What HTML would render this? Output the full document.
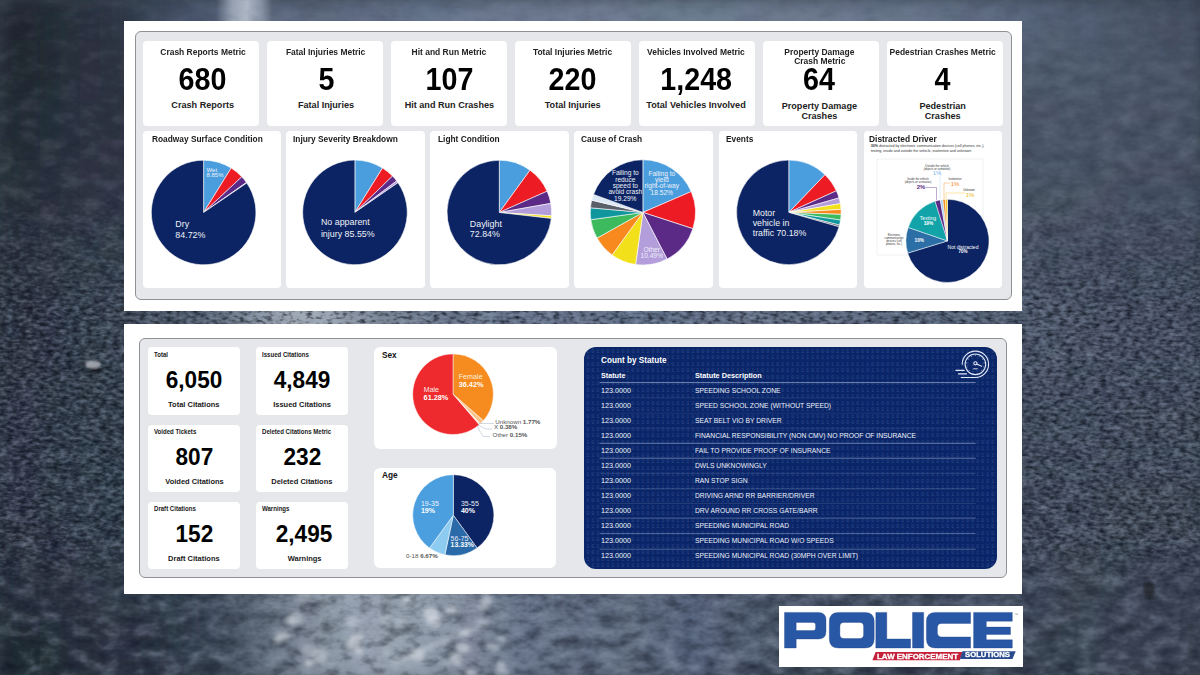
<!DOCTYPE html>
<html><head><meta charset="utf-8"><style>
*{margin:0;padding:0;box-sizing:border-box}
html,body{width:1200px;height:675px;overflow:hidden}
body{position:relative;font-family:"Liberation Sans", sans-serif;background:#3a4556}
.a{position:absolute}
.t{position:absolute;white-space:nowrap;line-height:1;color:#111}
.card{position:absolute;background:#fff;border-radius:4px}
svg{position:absolute;overflow:visible}
</style></head><body>
<svg class="a" style="left:0;top:0" width="1200" height="675" viewBox="0 0 1200 675"><defs><filter id="bl" x="-2%" y="-2%" width="104%" height="104%"><feGaussianBlur stdDeviation="9"/></filter><filter id="fw" x="0" y="0" width="100%" height="100%" color-interpolation-filters="sRGB"><feTurbulence type="fractalNoise" baseFrequency="0.15 0.3" numOctaves="2" seed="3"/><feColorMatrix type="matrix" values="0 0 0 0 0.659  0 0 0 0 0.722  0 0 0 0 0.816  2.2 0 0 0 -1.1"/></filter><filter id="fb" x="0" y="0" width="100%" height="100%" color-interpolation-filters="sRGB"><feTurbulence type="fractalNoise" baseFrequency="0.15 0.3" numOctaves="2" seed="3"/><feColorMatrix type="matrix" values="0 0 0 0 0.031  0 0 0 0 0.047  0 0 0 0 0.086  -2.6 0 0 0 1.3"/></filter><filter id="cw" x="0" y="0" width="100%" height="100%" color-interpolation-filters="sRGB"><feTurbulence type="fractalNoise" baseFrequency="0.05 0.08" numOctaves="3" seed="11"/><feColorMatrix type="matrix" values="0 0 0 0 0.706  0 0 0 0 0.761  0 0 0 0 0.839  1.3 0 0 0 -0.65"/></filter><filter id="cb" x="0" y="0" width="100%" height="100%" color-interpolation-filters="sRGB"><feTurbulence type="fractalNoise" baseFrequency="0.05 0.08" numOctaves="3" seed="11"/><feColorMatrix type="matrix" values="0 0 0 0 0.047  0 0 0 0 0.071  0 0 0 0 0.125  -1.6 0 0 0 0.8"/></filter><linearGradient id="gf" x1="0" y1="0" x2="0" y2="1"><stop offset="0" stop-color="#fff" stop-opacity="0"/><stop offset="0.28" stop-color="#fff" stop-opacity="0.06"/><stop offset="0.46" stop-color="#fff" stop-opacity="0.8"/><stop offset="0.8" stop-color="#fff" stop-opacity="0.75"/><stop offset="0.87" stop-color="#fff" stop-opacity="0.2"/><stop offset="1" stop-color="#fff" stop-opacity="0"/></linearGradient><linearGradient id="gc" x1="0" y1="0" x2="0" y2="1"><stop offset="0" stop-color="#fff" stop-opacity="0.2"/><stop offset="0.3" stop-color="#fff" stop-opacity="0.45"/><stop offset="0.6" stop-color="#fff" stop-opacity="0.35"/><stop offset="1" stop-color="#fff" stop-opacity="1"/></linearGradient><mask id="mf" maskUnits="userSpaceOnUse" x="0" y="0" width="1200" height="675"><rect width="1200" height="675" fill="url(#gf)"/></mask><mask id="mc" maskUnits="userSpaceOnUse" x="0" y="0" width="1200" height="675"><rect width="1200" height="675" fill="url(#gc)"/></mask></defs><g filter="url(#bl)"><rect x="-20" y="-20" width="1240" height="715" fill="#363f4c"/><rect x="0" y="0" width="20" height="20" fill="#212730"/><rect x="20" y="0" width="20" height="20" fill="#212733"/><rect x="40" y="0" width="20" height="20" fill="#242a36"/><rect x="60" y="0" width="20" height="20" fill="#272d39"/><rect x="80" y="0" width="20" height="20" fill="#2a333f"/><rect x="100" y="0" width="20" height="20" fill="#2d3645"/><rect x="120" y="0" width="20" height="20" fill="#333c4b"/><rect x="140" y="0" width="20" height="20" fill="#394557"/><rect x="160" y="0" width="20" height="20" fill="#3f4b60"/><rect x="180" y="0" width="20" height="20" fill="#48546c"/><rect x="200" y="0" width="20" height="20" fill="#515d75"/><rect x="220" y="0" width="20" height="20" fill="#57637b"/><rect x="240" y="0" width="20" height="20" fill="#5a667e"/><rect x="260" y="0" width="20" height="20" fill="#5d697e"/><rect x="280" y="0" width="20" height="20" fill="#5d6981"/><rect x="300" y="0" width="40" height="20" fill="#5d697e"/><rect x="340" y="0" width="20" height="20" fill="#5d6981"/><rect x="360" y="0" width="20" height="20" fill="#606c84"/><rect x="380" y="0" width="20" height="20" fill="#636f87"/><rect x="400" y="0" width="40" height="20" fill="#63728a"/><rect x="440" y="0" width="20" height="20" fill="#66758d"/><rect x="460" y="0" width="100" height="20" fill="#6c7890"/><rect x="560" y="0" width="80" height="20" fill="#6f7b93"/><rect x="640" y="0" width="100" height="20" fill="#6c7b90"/><rect x="740" y="0" width="20" height="20" fill="#6c7890"/><rect x="760" y="0" width="80" height="20" fill="#6c788d"/><rect x="840" y="0" width="20" height="20" fill="#69758d"/><rect x="860" y="0" width="60" height="20" fill="#66758a"/><rect x="920" y="0" width="20" height="20" fill="#66728a"/><rect x="940" y="0" width="20" height="20" fill="#606f84"/><rect x="960" y="0" width="20" height="20" fill="#606c84"/><rect x="980" y="0" width="20" height="20" fill="#5d6c81"/><rect x="1000" y="0" width="20" height="20" fill="#5a667e"/><rect x="1020" y="0" width="20" height="20" fill="#57637b"/><rect x="1040" y="0" width="20" height="20" fill="#546078"/><rect x="1060" y="0" width="20" height="20" fill="#515d72"/><rect x="1080" y="0" width="20" height="20" fill="#4e5a6f"/><rect x="1100" y="0" width="20" height="20" fill="#4e5a6c"/><rect x="1120" y="0" width="20" height="20" fill="#4b5769"/><rect x="1140" y="0" width="20" height="20" fill="#485466"/><rect x="1160" y="0" width="20" height="20" fill="#455163"/><rect x="1180" y="0" width="20" height="20" fill="#424e60"/><rect x="0" y="20" width="20" height="20" fill="#212730"/><rect x="20" y="20" width="20" height="20" fill="#212733"/><rect x="40" y="20" width="20" height="20" fill="#242d36"/><rect x="60" y="20" width="20" height="20" fill="#2a303c"/><rect x="80" y="20" width="20" height="20" fill="#2a333f"/><rect x="100" y="20" width="20" height="20" fill="#2d3642"/><rect x="120" y="20" width="20" height="20" fill="#333c4b"/><rect x="140" y="20" width="20" height="20" fill="#394254"/><rect x="160" y="20" width="20" height="20" fill="#3f4b60"/><rect x="180" y="20" width="20" height="20" fill="#48546c"/><rect x="200" y="20" width="20" height="20" fill="#515d75"/><rect x="220" y="20" width="20" height="20" fill="#57637b"/><rect x="240" y="20" width="20" height="20" fill="#5a667e"/><rect x="260" y="20" width="20" height="20" fill="#5d697e"/><rect x="280" y="20" width="20" height="20" fill="#5d6981"/><rect x="300" y="20" width="40" height="20" fill="#5d697e"/><rect x="340" y="20" width="20" height="20" fill="#5d6981"/><rect x="360" y="20" width="20" height="20" fill="#606c84"/><rect x="380" y="20" width="20" height="20" fill="#636f87"/><rect x="400" y="20" width="40" height="20" fill="#63728a"/><rect x="440" y="20" width="20" height="20" fill="#66758d"/><rect x="460" y="20" width="100" height="20" fill="#6c7890"/><rect x="560" y="20" width="80" height="20" fill="#6f7b93"/><rect x="640" y="20" width="100" height="20" fill="#6c7b90"/><rect x="740" y="20" width="20" height="20" fill="#6c7890"/><rect x="760" y="20" width="80" height="20" fill="#6c788d"/><rect x="840" y="20" width="20" height="20" fill="#69758d"/><rect x="860" y="20" width="60" height="20" fill="#66758a"/><rect x="920" y="20" width="20" height="20" fill="#66728a"/><rect x="940" y="20" width="20" height="20" fill="#606f84"/><rect x="960" y="20" width="20" height="20" fill="#606c84"/><rect x="980" y="20" width="20" height="20" fill="#5d6981"/><rect x="1000" y="20" width="20" height="20" fill="#5a667e"/><rect x="1020" y="20" width="20" height="20" fill="#546378"/><rect x="1040" y="20" width="20" height="20" fill="#546075"/><rect x="1060" y="20" width="20" height="20" fill="#515d72"/><rect x="1080" y="20" width="20" height="20" fill="#4e5a6f"/><rect x="1100" y="20" width="20" height="20" fill="#4e5a6c"/><rect x="1120" y="20" width="20" height="20" fill="#4b5769"/><rect x="1140" y="20" width="20" height="20" fill="#485466"/><rect x="1160" y="20" width="20" height="20" fill="#485163"/><rect x="1180" y="20" width="20" height="20" fill="#424e60"/><rect x="0" y="40" width="20" height="20" fill="#212730"/><rect x="20" y="40" width="20" height="20" fill="#242a33"/><rect x="40" y="40" width="20" height="20" fill="#272d39"/><rect x="60" y="40" width="20" height="20" fill="#2a303c"/><rect x="80" y="40" width="20" height="20" fill="#2d333f"/><rect x="100" y="40" width="20" height="20" fill="#2d3642"/><rect x="120" y="40" width="20" height="20" fill="#303945"/><rect x="140" y="40" width="20" height="20" fill="#363f4e"/><rect x="160" y="40" width="20" height="20" fill="#3f4b5d"/><rect x="180" y="40" width="20" height="20" fill="#48546c"/><rect x="200" y="40" width="20" height="20" fill="#515d75"/><rect x="220" y="40" width="20" height="20" fill="#57637b"/><rect x="240" y="40" width="20" height="20" fill="#5a667e"/><rect x="260" y="40" width="20" height="20" fill="#5d697e"/><rect x="280" y="40" width="20" height="20" fill="#5d6981"/><rect x="300" y="40" width="40" height="20" fill="#5d697e"/><rect x="340" y="40" width="20" height="20" fill="#5d6981"/><rect x="360" y="40" width="20" height="20" fill="#606c84"/><rect x="380" y="40" width="20" height="20" fill="#636f87"/><rect x="400" y="40" width="40" height="20" fill="#63728a"/><rect x="440" y="40" width="20" height="20" fill="#66758d"/><rect x="460" y="40" width="100" height="20" fill="#6c7890"/><rect x="560" y="40" width="80" height="20" fill="#6f7b93"/><rect x="640" y="40" width="100" height="20" fill="#6c7b90"/><rect x="740" y="40" width="20" height="20" fill="#6c7890"/><rect x="760" y="40" width="80" height="20" fill="#6c788d"/><rect x="840" y="40" width="20" height="20" fill="#69758d"/><rect x="860" y="40" width="60" height="20" fill="#66758a"/><rect x="920" y="40" width="20" height="20" fill="#66728a"/><rect x="940" y="40" width="20" height="20" fill="#606f84"/><rect x="960" y="40" width="20" height="20" fill="#606c84"/><rect x="980" y="40" width="20" height="20" fill="#5d6981"/><rect x="1000" y="40" width="20" height="20" fill="#576378"/><rect x="1020" y="40" width="20" height="20" fill="#515d72"/><rect x="1040" y="40" width="40" height="20" fill="#515d6f"/><rect x="1080" y="40" width="20" height="20" fill="#4e5a6f"/><rect x="1100" y="40" width="20" height="20" fill="#4e5a6c"/><rect x="1120" y="40" width="40" height="20" fill="#4b5769"/><rect x="1160" y="40" width="20" height="20" fill="#485466"/><rect x="1180" y="40" width="20" height="20" fill="#455163"/><rect x="0" y="60" width="20" height="20" fill="#212730"/><rect x="20" y="60" width="20" height="20" fill="#242a33"/><rect x="40" y="60" width="20" height="20" fill="#272d39"/><rect x="60" y="60" width="20" height="20" fill="#2a303c"/><rect x="80" y="60" width="20" height="20" fill="#2d333f"/><rect x="100" y="60" width="20" height="20" fill="#2d3642"/><rect x="120" y="60" width="20" height="20" fill="#303642"/><rect x="140" y="60" width="20" height="20" fill="#303948"/><rect x="160" y="60" width="20" height="20" fill="#394554"/><rect x="180" y="60" width="20" height="20" fill="#485469"/><rect x="200" y="60" width="20" height="20" fill="#515d75"/><rect x="220" y="60" width="20" height="20" fill="#57637b"/><rect x="240" y="60" width="20" height="20" fill="#5a667e"/><rect x="260" y="60" width="20" height="20" fill="#5d697e"/><rect x="280" y="60" width="20" height="20" fill="#5d6981"/><rect x="300" y="60" width="40" height="20" fill="#5d697e"/><rect x="340" y="60" width="20" height="20" fill="#5d6981"/><rect x="360" y="60" width="20" height="20" fill="#606c84"/><rect x="380" y="60" width="20" height="20" fill="#636f87"/><rect x="400" y="60" width="40" height="20" fill="#63728a"/><rect x="440" y="60" width="20" height="20" fill="#66758d"/><rect x="460" y="60" width="100" height="20" fill="#6c7890"/><rect x="560" y="60" width="80" height="20" fill="#6f7b93"/><rect x="640" y="60" width="100" height="20" fill="#6c7b90"/><rect x="740" y="60" width="20" height="20" fill="#6c7890"/><rect x="760" y="60" width="80" height="20" fill="#6c788d"/><rect x="840" y="60" width="20" height="20" fill="#69758d"/><rect x="860" y="60" width="60" height="20" fill="#66758a"/><rect x="920" y="60" width="20" height="20" fill="#66728a"/><rect x="940" y="60" width="20" height="20" fill="#606f84"/><rect x="960" y="60" width="20" height="20" fill="#5d6c81"/><rect x="980" y="60" width="20" height="20" fill="#5a667b"/><rect x="1000" y="60" width="20" height="20" fill="#515d72"/><rect x="1020" y="60" width="20" height="20" fill="#515d6f"/><rect x="1040" y="60" width="80" height="20" fill="#4e5a6c"/><rect x="1120" y="60" width="60" height="20" fill="#4b5769"/><rect x="1180" y="60" width="20" height="20" fill="#4b5466"/><rect x="0" y="80" width="20" height="20" fill="#242a33"/><rect x="20" y="80" width="20" height="20" fill="#242a36"/><rect x="40" y="80" width="20" height="20" fill="#273039"/><rect x="60" y="80" width="20" height="20" fill="#2a333f"/><rect x="80" y="80" width="20" height="20" fill="#2d3342"/><rect x="100" y="80" width="40" height="20" fill="#2d3642"/><rect x="140" y="80" width="20" height="20" fill="#303645"/><rect x="160" y="80" width="20" height="20" fill="#333948"/><rect x="180" y="80" width="20" height="20" fill="#424e60"/><rect x="200" y="80" width="20" height="20" fill="#515d75"/><rect x="220" y="80" width="20" height="20" fill="#57637b"/><rect x="240" y="80" width="20" height="20" fill="#5a667e"/><rect x="260" y="80" width="20" height="20" fill="#5d697e"/><rect x="280" y="80" width="20" height="20" fill="#5d6981"/><rect x="300" y="80" width="40" height="20" fill="#5d697e"/><rect x="340" y="80" width="20" height="20" fill="#5d6981"/><rect x="360" y="80" width="20" height="20" fill="#606c84"/><rect x="380" y="80" width="20" height="20" fill="#636f87"/><rect x="400" y="80" width="40" height="20" fill="#63728a"/><rect x="440" y="80" width="20" height="20" fill="#66758d"/><rect x="460" y="80" width="100" height="20" fill="#6c7890"/><rect x="560" y="80" width="80" height="20" fill="#6f7b93"/><rect x="640" y="80" width="100" height="20" fill="#6c7b90"/><rect x="740" y="80" width="20" height="20" fill="#6c7890"/><rect x="760" y="80" width="80" height="20" fill="#6c788d"/><rect x="840" y="80" width="20" height="20" fill="#69758d"/><rect x="860" y="80" width="60" height="20" fill="#66758a"/><rect x="920" y="80" width="20" height="20" fill="#66728a"/><rect x="940" y="80" width="20" height="20" fill="#606c84"/><rect x="960" y="80" width="20" height="20" fill="#5a697e"/><rect x="980" y="80" width="20" height="20" fill="#515d72"/><rect x="1000" y="80" width="100" height="20" fill="#4e5a6c"/><rect x="1100" y="80" width="100" height="20" fill="#4b5769"/><rect x="0" y="100" width="20" height="20" fill="#242a36"/><rect x="20" y="100" width="20" height="20" fill="#272d39"/><rect x="40" y="100" width="20" height="20" fill="#27303c"/><rect x="60" y="100" width="20" height="20" fill="#2a333f"/><rect x="80" y="100" width="40" height="20" fill="#2d3642"/><rect x="120" y="100" width="20" height="20" fill="#303642"/><rect x="140" y="100" width="40" height="20" fill="#303645"/><rect x="180" y="100" width="20" height="20" fill="#333c4b"/><rect x="200" y="100" width="20" height="20" fill="#4b576c"/><rect x="220" y="100" width="20" height="20" fill="#57637b"/><rect x="240" y="100" width="20" height="20" fill="#5a667e"/><rect x="260" y="100" width="20" height="20" fill="#5d697e"/><rect x="280" y="100" width="20" height="20" fill="#5d6981"/><rect x="300" y="100" width="40" height="20" fill="#5d697e"/><rect x="340" y="100" width="20" height="20" fill="#5d6981"/><rect x="360" y="100" width="20" height="20" fill="#606c84"/><rect x="380" y="100" width="20" height="20" fill="#636f87"/><rect x="400" y="100" width="40" height="20" fill="#63728a"/><rect x="440" y="100" width="20" height="20" fill="#66758d"/><rect x="460" y="100" width="100" height="20" fill="#6c7890"/><rect x="560" y="100" width="80" height="20" fill="#6f7b93"/><rect x="640" y="100" width="100" height="20" fill="#6c7b90"/><rect x="740" y="100" width="20" height="20" fill="#6c7890"/><rect x="760" y="100" width="80" height="20" fill="#6c788d"/><rect x="840" y="100" width="20" height="20" fill="#69758d"/><rect x="860" y="100" width="60" height="20" fill="#66758a"/><rect x="920" y="100" width="20" height="20" fill="#66728a"/><rect x="940" y="100" width="20" height="20" fill="#5a697e"/><rect x="960" y="100" width="20" height="20" fill="#515a6f"/><rect x="980" y="100" width="80" height="20" fill="#4e5769"/><rect x="1060" y="100" width="60" height="20" fill="#4b5769"/><rect x="1120" y="100" width="60" height="20" fill="#4b5466"/><rect x="1180" y="100" width="20" height="20" fill="#485466"/><rect x="0" y="120" width="20" height="20" fill="#242a36"/><rect x="20" y="120" width="20" height="20" fill="#272d39"/><rect x="40" y="120" width="20" height="20" fill="#27303c"/><rect x="60" y="120" width="20" height="20" fill="#2a333f"/><rect x="80" y="120" width="40" height="20" fill="#2d3642"/><rect x="120" y="120" width="80" height="20" fill="#303645"/><rect x="200" y="120" width="20" height="20" fill="#333c4b"/><rect x="220" y="120" width="20" height="20" fill="#515d72"/><rect x="240" y="120" width="20" height="20" fill="#5a667e"/><rect x="260" y="120" width="20" height="20" fill="#5d697e"/><rect x="280" y="120" width="20" height="20" fill="#5d6981"/><rect x="300" y="120" width="40" height="20" fill="#5d697e"/><rect x="340" y="120" width="20" height="20" fill="#5d6981"/><rect x="360" y="120" width="20" height="20" fill="#606c84"/><rect x="380" y="120" width="20" height="20" fill="#636f87"/><rect x="400" y="120" width="40" height="20" fill="#63728a"/><rect x="440" y="120" width="20" height="20" fill="#66758d"/><rect x="460" y="120" width="20" height="20" fill="#69788d"/><rect x="480" y="120" width="80" height="20" fill="#6c7890"/><rect x="560" y="120" width="20" height="20" fill="#6c7b90"/><rect x="580" y="120" width="40" height="20" fill="#6f7b93"/><rect x="620" y="120" width="20" height="20" fill="#6f7b90"/><rect x="640" y="120" width="80" height="20" fill="#6c7b90"/><rect x="720" y="120" width="20" height="20" fill="#6c7890"/><rect x="740" y="120" width="80" height="20" fill="#6c788d"/><rect x="820" y="120" width="20" height="20" fill="#69788d"/><rect x="840" y="120" width="20" height="20" fill="#69758d"/><rect x="860" y="120" width="40" height="20" fill="#66758a"/><rect x="900" y="120" width="20" height="20" fill="#66728a"/><rect x="920" y="120" width="20" height="20" fill="#5d6c81"/><rect x="940" y="120" width="20" height="20" fill="#4e5a6c"/><rect x="960" y="120" width="140" height="20" fill="#4b5769"/><rect x="1100" y="120" width="20" height="20" fill="#4b5466"/><rect x="1120" y="120" width="80" height="20" fill="#485466"/><rect x="0" y="140" width="20" height="20" fill="#272d36"/><rect x="20" y="140" width="20" height="20" fill="#272d39"/><rect x="40" y="140" width="20" height="20" fill="#2a303c"/><rect x="60" y="140" width="20" height="20" fill="#2a333f"/><rect x="80" y="140" width="20" height="20" fill="#2d3642"/><rect x="100" y="140" width="60" height="20" fill="#303645"/><rect x="160" y="140" width="60" height="20" fill="#303945"/><rect x="220" y="140" width="20" height="20" fill="#333c4b"/><rect x="240" y="140" width="20" height="20" fill="#546075"/><rect x="260" y="140" width="20" height="20" fill="#5a667e"/><rect x="280" y="140" width="40" height="20" fill="#5a667b"/><rect x="320" y="140" width="20" height="20" fill="#57667b"/><rect x="340" y="140" width="20" height="20" fill="#5a667b"/><rect x="360" y="140" width="20" height="20" fill="#5a667e"/><rect x="380" y="140" width="40" height="20" fill="#5d6981"/><rect x="420" y="140" width="20" height="20" fill="#5a667e"/><rect x="440" y="140" width="20" height="20" fill="#5a6678"/><rect x="460" y="140" width="20" height="20" fill="#606c81"/><rect x="480" y="140" width="40" height="20" fill="#636f84"/><rect x="520" y="140" width="20" height="20" fill="#606c81"/><rect x="540" y="140" width="20" height="20" fill="#5d667b"/><rect x="560" y="140" width="20" height="20" fill="#606c81"/><rect x="580" y="140" width="40" height="20" fill="#667287"/><rect x="620" y="140" width="20" height="20" fill="#606c81"/><rect x="640" y="140" width="20" height="20" fill="#5d697b"/><rect x="660" y="140" width="20" height="20" fill="#606c81"/><rect x="680" y="140" width="40" height="20" fill="#637287"/><rect x="720" y="140" width="20" height="20" fill="#606c81"/><rect x="740" y="140" width="20" height="20" fill="#5a667b"/><rect x="760" y="140" width="20" height="20" fill="#606c7e"/><rect x="780" y="140" width="40" height="20" fill="#636f84"/><rect x="820" y="140" width="20" height="20" fill="#606c7e"/><rect x="840" y="140" width="20" height="20" fill="#5a6678"/><rect x="860" y="140" width="20" height="20" fill="#5d697e"/><rect x="880" y="140" width="20" height="20" fill="#606c81"/><rect x="900" y="140" width="20" height="20" fill="#5d697e"/><rect x="920" y="140" width="20" height="20" fill="#4e5769"/><rect x="940" y="140" width="160" height="20" fill="#4b5769"/><rect x="1100" y="140" width="100" height="20" fill="#485466"/><rect x="0" y="160" width="20" height="20" fill="#273039"/><rect x="20" y="160" width="20" height="20" fill="#2a303c"/><rect x="40" y="160" width="20" height="20" fill="#2a333f"/><rect x="60" y="160" width="20" height="20" fill="#2d3642"/><rect x="80" y="160" width="20" height="20" fill="#303645"/><rect x="100" y="160" width="80" height="20" fill="#303945"/><rect x="180" y="160" width="40" height="20" fill="#303948"/><rect x="220" y="160" width="20" height="20" fill="#333948"/><rect x="240" y="160" width="20" height="20" fill="#545d6c"/><rect x="260" y="160" width="20" height="20" fill="#757e8d"/><rect x="280" y="160" width="20" height="20" fill="#7e8a96"/><rect x="300" y="160" width="20" height="20" fill="#818a99"/><rect x="320" y="160" width="20" height="20" fill="#7b8793"/><rect x="340" y="160" width="20" height="20" fill="#727e8d"/><rect x="360" y="160" width="20" height="20" fill="#697284"/><rect x="380" y="160" width="20" height="20" fill="#606c7b"/><rect x="400" y="160" width="20" height="20" fill="#5a6375"/><rect x="420" y="160" width="20" height="20" fill="#5a6378"/><rect x="440" y="160" width="20" height="20" fill="#5a6678"/><rect x="460" y="160" width="20" height="20" fill="#576375"/><rect x="480" y="160" width="40" height="20" fill="#545d72"/><rect x="520" y="160" width="20" height="20" fill="#576375"/><rect x="540" y="160" width="20" height="20" fill="#576378"/><rect x="560" y="160" width="20" height="20" fill="#576375"/><rect x="580" y="160" width="20" height="20" fill="#545d72"/><rect x="600" y="160" width="20" height="20" fill="#515d72"/><rect x="620" y="160" width="20" height="20" fill="#576375"/><rect x="640" y="160" width="20" height="20" fill="#576378"/><rect x="660" y="160" width="20" height="20" fill="#576375"/><rect x="680" y="160" width="40" height="20" fill="#515d6f"/><rect x="720" y="160" width="20" height="20" fill="#545d72"/><rect x="740" y="160" width="20" height="20" fill="#546072"/><rect x="760" y="160" width="20" height="20" fill="#545d72"/><rect x="780" y="160" width="20" height="20" fill="#515a6c"/><rect x="800" y="160" width="20" height="20" fill="#4e5a6c"/><rect x="820" y="160" width="20" height="20" fill="#515d6f"/><rect x="840" y="160" width="20" height="20" fill="#545d72"/><rect x="860" y="160" width="20" height="20" fill="#515d6f"/><rect x="880" y="160" width="20" height="20" fill="#4e5a6c"/><rect x="900" y="160" width="20" height="20" fill="#4e5769"/><rect x="920" y="160" width="40" height="20" fill="#4b5466"/><rect x="960" y="160" width="140" height="20" fill="#485466"/><rect x="1100" y="160" width="20" height="20" fill="#485463"/><rect x="1120" y="160" width="80" height="20" fill="#485163"/><rect x="0" y="180" width="20" height="20" fill="#2a3039"/><rect x="20" y="180" width="20" height="20" fill="#2a333c"/><rect x="40" y="180" width="20" height="20" fill="#2a333f"/><rect x="60" y="180" width="20" height="20" fill="#2d3642"/><rect x="80" y="180" width="20" height="20" fill="#303945"/><rect x="100" y="180" width="20" height="20" fill="#303948"/><rect x="120" y="180" width="80" height="20" fill="#333948"/><rect x="200" y="180" width="20" height="20" fill="#333c48"/><rect x="220" y="180" width="20" height="20" fill="#4b5463"/><rect x="240" y="180" width="20" height="20" fill="#788190"/><rect x="260" y="180" width="20" height="20" fill="#8d96a5"/><rect x="280" y="180" width="20" height="20" fill="#9ca5b1"/><rect x="300" y="180" width="20" height="20" fill="#9fa8b4"/><rect x="320" y="180" width="20" height="20" fill="#969fae"/><rect x="340" y="180" width="20" height="20" fill="#8793a2"/><rect x="360" y="180" width="20" height="20" fill="#7b8796"/><rect x="380" y="180" width="20" height="20" fill="#758190"/><rect x="400" y="180" width="20" height="20" fill="#6c788d"/><rect x="420" y="180" width="40" height="20" fill="#69758a"/><rect x="460" y="180" width="40" height="20" fill="#66728a"/><rect x="500" y="180" width="40" height="20" fill="#63728a"/><rect x="540" y="180" width="20" height="20" fill="#66728a"/><rect x="560" y="180" width="40" height="20" fill="#63728a"/><rect x="600" y="180" width="40" height="20" fill="#636f8a"/><rect x="640" y="180" width="20" height="20" fill="#63728a"/><rect x="660" y="180" width="20" height="20" fill="#636f8a"/><rect x="680" y="180" width="20" height="20" fill="#636f87"/><rect x="700" y="180" width="100" height="20" fill="#5d697e"/><rect x="800" y="180" width="100" height="20" fill="#5a667b"/><rect x="900" y="180" width="20" height="20" fill="#576378"/><rect x="920" y="180" width="20" height="20" fill="#515d6f"/><rect x="940" y="180" width="20" height="20" fill="#485466"/><rect x="960" y="180" width="140" height="20" fill="#485463"/><rect x="1100" y="180" width="20" height="20" fill="#485163"/><rect x="1120" y="180" width="80" height="20" fill="#455163"/><rect x="0" y="200" width="20" height="20" fill="#2a303c"/><rect x="20" y="200" width="20" height="20" fill="#2a333c"/><rect x="40" y="200" width="20" height="20" fill="#2d333f"/><rect x="60" y="200" width="20" height="20" fill="#2d3642"/><rect x="80" y="200" width="20" height="20" fill="#303945"/><rect x="100" y="200" width="60" height="20" fill="#333948"/><rect x="160" y="200" width="20" height="20" fill="#333c48"/><rect x="180" y="200" width="20" height="20" fill="#333c4b"/><rect x="200" y="200" width="20" height="20" fill="#424e5d"/><rect x="220" y="200" width="20" height="20" fill="#636f7e"/><rect x="240" y="200" width="20" height="20" fill="#788493"/><rect x="260" y="200" width="20" height="20" fill="#8d96a5"/><rect x="280" y="200" width="20" height="20" fill="#9ca5b1"/><rect x="300" y="200" width="20" height="20" fill="#9fa8b4"/><rect x="320" y="200" width="20" height="20" fill="#96a2ae"/><rect x="340" y="200" width="20" height="20" fill="#8a93a2"/><rect x="360" y="200" width="20" height="20" fill="#7b8796"/><rect x="380" y="200" width="20" height="20" fill="#758190"/><rect x="400" y="200" width="20" height="20" fill="#6f7b8d"/><rect x="420" y="200" width="60" height="20" fill="#69758a"/><rect x="480" y="200" width="20" height="20" fill="#66758a"/><rect x="500" y="200" width="100" height="20" fill="#66728a"/><rect x="600" y="200" width="80" height="20" fill="#63728a"/><rect x="680" y="200" width="20" height="20" fill="#636f87"/><rect x="700" y="200" width="20" height="20" fill="#5d6981"/><rect x="720" y="200" width="80" height="20" fill="#5d697e"/><rect x="800" y="200" width="100" height="20" fill="#5a667b"/><rect x="900" y="200" width="40" height="20" fill="#576378"/><rect x="940" y="200" width="20" height="20" fill="#515d72"/><rect x="960" y="200" width="20" height="20" fill="#485466"/><rect x="980" y="200" width="100" height="20" fill="#485463"/><rect x="1080" y="200" width="40" height="20" fill="#485163"/><rect x="1120" y="200" width="80" height="20" fill="#455163"/><rect x="0" y="220" width="20" height="20" fill="#2a333c"/><rect x="20" y="220" width="20" height="20" fill="#2a333f"/><rect x="40" y="220" width="20" height="20" fill="#2d3642"/><rect x="60" y="220" width="20" height="20" fill="#303945"/><rect x="80" y="220" width="20" height="20" fill="#333948"/><rect x="100" y="220" width="20" height="20" fill="#333c48"/><rect x="120" y="220" width="40" height="20" fill="#333c4b"/><rect x="160" y="220" width="20" height="20" fill="#363f4e"/><rect x="180" y="220" width="20" height="20" fill="#424b5a"/><rect x="200" y="220" width="20" height="20" fill="#54606f"/><rect x="220" y="220" width="20" height="20" fill="#667281"/><rect x="240" y="220" width="20" height="20" fill="#788493"/><rect x="260" y="220" width="20" height="20" fill="#8d96a5"/><rect x="280" y="220" width="20" height="20" fill="#9ca5b1"/><rect x="300" y="220" width="20" height="20" fill="#9fa8b4"/><rect x="320" y="220" width="20" height="20" fill="#96a2ae"/><rect x="340" y="220" width="20" height="20" fill="#8a93a2"/><rect x="360" y="220" width="20" height="20" fill="#7b8796"/><rect x="380" y="220" width="20" height="20" fill="#758190"/><rect x="400" y="220" width="20" height="20" fill="#6f7b8d"/><rect x="420" y="220" width="60" height="20" fill="#69758a"/><rect x="480" y="220" width="20" height="20" fill="#66758a"/><rect x="500" y="220" width="100" height="20" fill="#66728a"/><rect x="600" y="220" width="80" height="20" fill="#63728a"/><rect x="680" y="220" width="20" height="20" fill="#636f87"/><rect x="700" y="220" width="20" height="20" fill="#5d6981"/><rect x="720" y="220" width="80" height="20" fill="#5d697e"/><rect x="800" y="220" width="100" height="20" fill="#5a667b"/><rect x="900" y="220" width="60" height="20" fill="#576378"/><rect x="960" y="220" width="20" height="20" fill="#515d6f"/><rect x="980" y="220" width="20" height="20" fill="#485466"/><rect x="1000" y="220" width="100" height="20" fill="#485163"/><rect x="1100" y="220" width="20" height="20" fill="#455160"/><rect x="1120" y="220" width="80" height="20" fill="#454e60"/><rect x="0" y="240" width="20" height="20" fill="#2d333f"/><rect x="20" y="240" width="20" height="20" fill="#2d3642"/><rect x="40" y="240" width="20" height="20" fill="#303945"/><rect x="60" y="240" width="20" height="20" fill="#333c48"/><rect x="80" y="240" width="20" height="20" fill="#333c4b"/><rect x="100" y="240" width="20" height="20" fill="#363f4b"/><rect x="120" y="240" width="20" height="20" fill="#363f4e"/><rect x="140" y="240" width="20" height="20" fill="#394251"/><rect x="160" y="240" width="20" height="20" fill="#3f4857"/><rect x="180" y="240" width="20" height="20" fill="#4b5766"/><rect x="200" y="240" width="20" height="20" fill="#546072"/><rect x="220" y="240" width="20" height="20" fill="#667281"/><rect x="240" y="240" width="20" height="20" fill="#788493"/><rect x="260" y="240" width="20" height="20" fill="#8d96a5"/><rect x="280" y="240" width="20" height="20" fill="#9ca5b1"/><rect x="300" y="240" width="20" height="20" fill="#9fa8b4"/><rect x="320" y="240" width="20" height="20" fill="#96a2ae"/><rect x="340" y="240" width="20" height="20" fill="#8a93a2"/><rect x="360" y="240" width="20" height="20" fill="#7b8796"/><rect x="380" y="240" width="20" height="20" fill="#758190"/><rect x="400" y="240" width="20" height="20" fill="#6f7b8d"/><rect x="420" y="240" width="60" height="20" fill="#69758a"/><rect x="480" y="240" width="20" height="20" fill="#66758a"/><rect x="500" y="240" width="100" height="20" fill="#66728a"/><rect x="600" y="240" width="80" height="20" fill="#63728a"/><rect x="680" y="240" width="20" height="20" fill="#636f87"/><rect x="700" y="240" width="20" height="20" fill="#5d6981"/><rect x="720" y="240" width="80" height="20" fill="#5d697e"/><rect x="800" y="240" width="100" height="20" fill="#5a667b"/><rect x="900" y="240" width="60" height="20" fill="#576378"/><rect x="960" y="240" width="20" height="20" fill="#546075"/><rect x="980" y="240" width="20" height="20" fill="#4e5a6c"/><rect x="1000" y="240" width="20" height="20" fill="#485463"/><rect x="1020" y="240" width="20" height="20" fill="#455163"/><rect x="1040" y="240" width="40" height="20" fill="#455160"/><rect x="1080" y="240" width="120" height="20" fill="#454e60"/><rect x="0" y="260" width="20" height="20" fill="#2d363f"/><rect x="20" y="260" width="20" height="20" fill="#2d3642"/><rect x="40" y="260" width="20" height="20" fill="#303945"/><rect x="60" y="260" width="20" height="20" fill="#333c48"/><rect x="80" y="260" width="20" height="20" fill="#363f4b"/><rect x="100" y="260" width="20" height="20" fill="#363f4e"/><rect x="120" y="260" width="20" height="20" fill="#394251"/><rect x="140" y="260" width="20" height="20" fill="#3f4857"/><rect x="160" y="260" width="20" height="20" fill="#455160"/><rect x="180" y="260" width="20" height="20" fill="#4e5a69"/><rect x="200" y="260" width="20" height="20" fill="#546072"/><rect x="220" y="260" width="20" height="20" fill="#667281"/><rect x="240" y="260" width="20" height="20" fill="#788493"/><rect x="260" y="260" width="20" height="20" fill="#8d96a5"/><rect x="280" y="260" width="20" height="20" fill="#9ca5b1"/><rect x="300" y="260" width="20" height="20" fill="#9fa8b4"/><rect x="320" y="260" width="20" height="20" fill="#96a2ae"/><rect x="340" y="260" width="20" height="20" fill="#8a93a2"/><rect x="360" y="260" width="20" height="20" fill="#7b8796"/><rect x="380" y="260" width="20" height="20" fill="#758190"/><rect x="400" y="260" width="20" height="20" fill="#6f7b8d"/><rect x="420" y="260" width="60" height="20" fill="#69758a"/><rect x="480" y="260" width="20" height="20" fill="#66758a"/><rect x="500" y="260" width="100" height="20" fill="#66728a"/><rect x="600" y="260" width="80" height="20" fill="#63728a"/><rect x="680" y="260" width="20" height="20" fill="#636f87"/><rect x="700" y="260" width="20" height="20" fill="#5d6981"/><rect x="720" y="260" width="80" height="20" fill="#5d697e"/><rect x="800" y="260" width="100" height="20" fill="#5a667b"/><rect x="900" y="260" width="80" height="20" fill="#576378"/><rect x="980" y="260" width="20" height="20" fill="#515d72"/><rect x="1000" y="260" width="20" height="20" fill="#4e5769"/><rect x="1020" y="260" width="20" height="20" fill="#485163"/><rect x="1040" y="260" width="20" height="20" fill="#455160"/><rect x="1060" y="260" width="60" height="20" fill="#454e60"/><rect x="1120" y="260" width="80" height="20" fill="#424e5d"/><rect x="0" y="280" width="40" height="20" fill="#2d3642"/><rect x="40" y="280" width="20" height="20" fill="#303945"/><rect x="60" y="280" width="20" height="20" fill="#333c48"/><rect x="80" y="280" width="20" height="20" fill="#363f4e"/><rect x="100" y="280" width="20" height="20" fill="#394251"/><rect x="120" y="280" width="20" height="20" fill="#3c4857"/><rect x="140" y="280" width="20" height="20" fill="#424e5d"/><rect x="160" y="280" width="20" height="20" fill="#485463"/><rect x="180" y="280" width="20" height="20" fill="#4e5a69"/><rect x="200" y="280" width="20" height="20" fill="#546072"/><rect x="220" y="280" width="20" height="20" fill="#667281"/><rect x="240" y="280" width="20" height="20" fill="#788493"/><rect x="260" y="280" width="20" height="20" fill="#8d96a5"/><rect x="280" y="280" width="20" height="20" fill="#9ca5b1"/><rect x="300" y="280" width="20" height="20" fill="#9fa8b4"/><rect x="320" y="280" width="20" height="20" fill="#96a2ae"/><rect x="340" y="280" width="20" height="20" fill="#8a93a2"/><rect x="360" y="280" width="20" height="20" fill="#7b8796"/><rect x="380" y="280" width="20" height="20" fill="#758190"/><rect x="400" y="280" width="20" height="20" fill="#6f7b8d"/><rect x="420" y="280" width="60" height="20" fill="#69758a"/><rect x="480" y="280" width="20" height="20" fill="#66758a"/><rect x="500" y="280" width="100" height="20" fill="#66728a"/><rect x="600" y="280" width="80" height="20" fill="#63728a"/><rect x="680" y="280" width="20" height="20" fill="#636f87"/><rect x="700" y="280" width="20" height="20" fill="#5d6981"/><rect x="720" y="280" width="80" height="20" fill="#5d697e"/><rect x="800" y="280" width="100" height="20" fill="#5a667b"/><rect x="900" y="280" width="80" height="20" fill="#576378"/><rect x="980" y="280" width="20" height="20" fill="#546072"/><rect x="1000" y="280" width="20" height="20" fill="#515d6f"/><rect x="1020" y="280" width="20" height="20" fill="#4b5769"/><rect x="1040" y="280" width="20" height="20" fill="#485163"/><rect x="1060" y="280" width="20" height="20" fill="#455160"/><rect x="1080" y="280" width="40" height="20" fill="#454e60"/><rect x="1120" y="280" width="80" height="20" fill="#424e5d"/><rect x="0" y="300" width="20" height="20" fill="#2d3642"/><rect x="20" y="300" width="20" height="20" fill="#303945"/><rect x="40" y="300" width="20" height="20" fill="#303948"/><rect x="60" y="300" width="20" height="20" fill="#333c4b"/><rect x="80" y="300" width="20" height="20" fill="#363f4e"/><rect x="100" y="300" width="20" height="20" fill="#3c4554"/><rect x="120" y="300" width="20" height="20" fill="#3f4b5a"/><rect x="140" y="300" width="20" height="20" fill="#424e5d"/><rect x="160" y="300" width="20" height="20" fill="#485463"/><rect x="180" y="300" width="20" height="20" fill="#4e5a69"/><rect x="200" y="300" width="20" height="20" fill="#546072"/><rect x="220" y="300" width="20" height="20" fill="#667281"/><rect x="240" y="300" width="20" height="20" fill="#788493"/><rect x="260" y="300" width="20" height="20" fill="#8d96a5"/><rect x="280" y="300" width="20" height="20" fill="#9ca5b1"/><rect x="300" y="300" width="20" height="20" fill="#9fa8b4"/><rect x="320" y="300" width="20" height="20" fill="#96a2ae"/><rect x="340" y="300" width="20" height="20" fill="#8a93a2"/><rect x="360" y="300" width="20" height="20" fill="#7b8796"/><rect x="380" y="300" width="20" height="20" fill="#758190"/><rect x="400" y="300" width="20" height="20" fill="#6f7b8d"/><rect x="420" y="300" width="60" height="20" fill="#69758a"/><rect x="480" y="300" width="20" height="20" fill="#66758a"/><rect x="500" y="300" width="100" height="20" fill="#66728a"/><rect x="600" y="300" width="80" height="20" fill="#63728a"/><rect x="680" y="300" width="20" height="20" fill="#636f87"/><rect x="700" y="300" width="20" height="20" fill="#5d6981"/><rect x="720" y="300" width="80" height="20" fill="#5d697e"/><rect x="800" y="300" width="100" height="20" fill="#5a667b"/><rect x="900" y="300" width="80" height="20" fill="#576378"/><rect x="980" y="300" width="20" height="20" fill="#546075"/><rect x="1000" y="300" width="20" height="20" fill="#515d72"/><rect x="1020" y="300" width="20" height="20" fill="#4e5a6c"/><rect x="1040" y="300" width="20" height="20" fill="#4b5466"/><rect x="1060" y="300" width="20" height="20" fill="#485163"/><rect x="1080" y="300" width="20" height="20" fill="#455160"/><rect x="1100" y="300" width="100" height="20" fill="#454e60"/><rect x="0" y="320" width="20" height="20" fill="#2d3645"/><rect x="20" y="320" width="20" height="20" fill="#303945"/><rect x="40" y="320" width="20" height="20" fill="#303948"/><rect x="60" y="320" width="20" height="20" fill="#333c4b"/><rect x="80" y="320" width="20" height="20" fill="#363f4e"/><rect x="100" y="320" width="20" height="20" fill="#394551"/><rect x="120" y="320" width="20" height="20" fill="#3f4857"/><rect x="140" y="320" width="20" height="20" fill="#424e5d"/><rect x="160" y="320" width="20" height="20" fill="#485463"/><rect x="180" y="320" width="20" height="20" fill="#4e5a69"/><rect x="200" y="320" width="20" height="20" fill="#546072"/><rect x="220" y="320" width="20" height="20" fill="#667281"/><rect x="240" y="320" width="20" height="20" fill="#788493"/><rect x="260" y="320" width="20" height="20" fill="#8d96a5"/><rect x="280" y="320" width="20" height="20" fill="#9ca5b1"/><rect x="300" y="320" width="20" height="20" fill="#9fa8b4"/><rect x="320" y="320" width="20" height="20" fill="#96a2ae"/><rect x="340" y="320" width="20" height="20" fill="#8a93a2"/><rect x="360" y="320" width="20" height="20" fill="#7b8796"/><rect x="380" y="320" width="20" height="20" fill="#758190"/><rect x="400" y="320" width="20" height="20" fill="#6f7b8d"/><rect x="420" y="320" width="60" height="20" fill="#69758a"/><rect x="480" y="320" width="20" height="20" fill="#66758a"/><rect x="500" y="320" width="100" height="20" fill="#66728a"/><rect x="600" y="320" width="80" height="20" fill="#63728a"/><rect x="680" y="320" width="20" height="20" fill="#636f87"/><rect x="700" y="320" width="20" height="20" fill="#5d6981"/><rect x="720" y="320" width="80" height="20" fill="#5d697e"/><rect x="800" y="320" width="100" height="20" fill="#5a667b"/><rect x="900" y="320" width="80" height="20" fill="#576378"/><rect x="980" y="320" width="20" height="20" fill="#546075"/><rect x="1000" y="320" width="20" height="20" fill="#515d6f"/><rect x="1020" y="320" width="20" height="20" fill="#4e576c"/><rect x="1040" y="320" width="20" height="20" fill="#485466"/><rect x="1060" y="320" width="40" height="20" fill="#485163"/><rect x="1100" y="320" width="100" height="20" fill="#454e60"/><rect x="0" y="340" width="40" height="20" fill="#303945"/><rect x="40" y="340" width="20" height="20" fill="#303948"/><rect x="60" y="340" width="20" height="20" fill="#333c4b"/><rect x="80" y="340" width="20" height="20" fill="#363f4b"/><rect x="100" y="340" width="20" height="20" fill="#394251"/><rect x="120" y="340" width="20" height="20" fill="#3c4554"/><rect x="140" y="340" width="20" height="20" fill="#3f4b5a"/><rect x="160" y="340" width="20" height="20" fill="#485463"/><rect x="180" y="340" width="20" height="20" fill="#4e5a69"/><rect x="200" y="340" width="20" height="20" fill="#546072"/><rect x="220" y="340" width="20" height="20" fill="#667281"/><rect x="240" y="340" width="20" height="20" fill="#788493"/><rect x="260" y="340" width="20" height="20" fill="#8d96a5"/><rect x="280" y="340" width="20" height="20" fill="#9ca5b1"/><rect x="300" y="340" width="20" height="20" fill="#9fa8b4"/><rect x="320" y="340" width="20" height="20" fill="#96a2ae"/><rect x="340" y="340" width="20" height="20" fill="#8a93a2"/><rect x="360" y="340" width="20" height="20" fill="#7b8796"/><rect x="380" y="340" width="20" height="20" fill="#758190"/><rect x="400" y="340" width="20" height="20" fill="#6f7b8d"/><rect x="420" y="340" width="60" height="20" fill="#69758a"/><rect x="480" y="340" width="20" height="20" fill="#66758a"/><rect x="500" y="340" width="100" height="20" fill="#66728a"/><rect x="600" y="340" width="80" height="20" fill="#63728a"/><rect x="680" y="340" width="20" height="20" fill="#636f87"/><rect x="700" y="340" width="20" height="20" fill="#5d6981"/><rect x="720" y="340" width="80" height="20" fill="#5d697e"/><rect x="800" y="340" width="100" height="20" fill="#5a667b"/><rect x="900" y="340" width="80" height="20" fill="#576378"/><rect x="980" y="340" width="20" height="20" fill="#546072"/><rect x="1000" y="340" width="20" height="20" fill="#515a6f"/><rect x="1020" y="340" width="20" height="20" fill="#4b5769"/><rect x="1040" y="340" width="20" height="20" fill="#485463"/><rect x="1060" y="340" width="40" height="20" fill="#485163"/><rect x="1100" y="340" width="100" height="20" fill="#454e60"/><rect x="0" y="360" width="40" height="20" fill="#303945"/><rect x="40" y="360" width="20" height="20" fill="#303948"/><rect x="60" y="360" width="20" height="20" fill="#333c4b"/><rect x="80" y="360" width="20" height="20" fill="#363f4b"/><rect x="100" y="360" width="20" height="20" fill="#36424e"/><rect x="120" y="360" width="20" height="20" fill="#394251"/><rect x="140" y="360" width="20" height="20" fill="#3c4857"/><rect x="160" y="360" width="20" height="20" fill="#455160"/><rect x="180" y="360" width="20" height="20" fill="#4e5a69"/><rect x="200" y="360" width="20" height="20" fill="#546072"/><rect x="220" y="360" width="20" height="20" fill="#667281"/><rect x="240" y="360" width="20" height="20" fill="#788493"/><rect x="260" y="360" width="20" height="20" fill="#8d96a5"/><rect x="280" y="360" width="20" height="20" fill="#9ca5b1"/><rect x="300" y="360" width="20" height="20" fill="#9fa8b4"/><rect x="320" y="360" width="20" height="20" fill="#96a2ae"/><rect x="340" y="360" width="20" height="20" fill="#8a93a2"/><rect x="360" y="360" width="20" height="20" fill="#7b8796"/><rect x="380" y="360" width="20" height="20" fill="#758190"/><rect x="400" y="360" width="20" height="20" fill="#6f7b8d"/><rect x="420" y="360" width="60" height="20" fill="#69758a"/><rect x="480" y="360" width="20" height="20" fill="#66758a"/><rect x="500" y="360" width="100" height="20" fill="#66728a"/><rect x="600" y="360" width="80" height="20" fill="#63728a"/><rect x="680" y="360" width="20" height="20" fill="#636f87"/><rect x="700" y="360" width="20" height="20" fill="#5d6981"/><rect x="720" y="360" width="80" height="20" fill="#5d697e"/><rect x="800" y="360" width="100" height="20" fill="#5a667b"/><rect x="900" y="360" width="80" height="20" fill="#576378"/><rect x="980" y="360" width="20" height="20" fill="#515d72"/><rect x="1000" y="360" width="20" height="20" fill="#4e576c"/><rect x="1020" y="360" width="20" height="20" fill="#485466"/><rect x="1040" y="360" width="20" height="20" fill="#485163"/><rect x="1060" y="360" width="40" height="20" fill="#455160"/><rect x="1100" y="360" width="20" height="20" fill="#454e60"/><rect x="1120" y="360" width="80" height="20" fill="#424e5d"/><rect x="0" y="380" width="20" height="20" fill="#303945"/><rect x="20" y="380" width="20" height="20" fill="#303948"/><rect x="40" y="380" width="20" height="20" fill="#333c48"/><rect x="60" y="380" width="20" height="20" fill="#333c4b"/><rect x="80" y="380" width="20" height="20" fill="#363f4b"/><rect x="100" y="380" width="20" height="20" fill="#363f4e"/><rect x="120" y="380" width="20" height="20" fill="#36424e"/><rect x="140" y="380" width="20" height="20" fill="#394251"/><rect x="160" y="380" width="20" height="20" fill="#3c4857"/><rect x="180" y="380" width="20" height="20" fill="#4b5766"/><rect x="200" y="380" width="20" height="20" fill="#546072"/><rect x="220" y="380" width="20" height="20" fill="#667281"/><rect x="240" y="380" width="20" height="20" fill="#788493"/><rect x="260" y="380" width="20" height="20" fill="#8d96a5"/><rect x="280" y="380" width="20" height="20" fill="#9ca5b1"/><rect x="300" y="380" width="20" height="20" fill="#9fa8b4"/><rect x="320" y="380" width="20" height="20" fill="#96a2ae"/><rect x="340" y="380" width="20" height="20" fill="#8a93a2"/><rect x="360" y="380" width="20" height="20" fill="#7b8796"/><rect x="380" y="380" width="20" height="20" fill="#758190"/><rect x="400" y="380" width="20" height="20" fill="#6f7b8d"/><rect x="420" y="380" width="60" height="20" fill="#69758a"/><rect x="480" y="380" width="20" height="20" fill="#66758a"/><rect x="500" y="380" width="100" height="20" fill="#66728a"/><rect x="600" y="380" width="80" height="20" fill="#63728a"/><rect x="680" y="380" width="20" height="20" fill="#636f87"/><rect x="700" y="380" width="20" height="20" fill="#5d6981"/><rect x="720" y="380" width="80" height="20" fill="#5d697e"/><rect x="800" y="380" width="100" height="20" fill="#5a667b"/><rect x="900" y="380" width="60" height="20" fill="#576378"/><rect x="960" y="380" width="20" height="20" fill="#546075"/><rect x="980" y="380" width="20" height="20" fill="#4b5769"/><rect x="1000" y="380" width="20" height="20" fill="#455163"/><rect x="1020" y="380" width="80" height="20" fill="#454e60"/><rect x="1100" y="380" width="100" height="20" fill="#424b5d"/><rect x="0" y="400" width="40" height="20" fill="#303948"/><rect x="40" y="400" width="20" height="20" fill="#333c48"/><rect x="60" y="400" width="20" height="20" fill="#333c4b"/><rect x="80" y="400" width="80" height="20" fill="#363f4e"/><rect x="160" y="400" width="20" height="20" fill="#36424e"/><rect x="180" y="400" width="20" height="20" fill="#3c4857"/><rect x="200" y="400" width="20" height="20" fill="#515d6c"/><rect x="220" y="400" width="20" height="20" fill="#667281"/><rect x="240" y="400" width="20" height="20" fill="#788493"/><rect x="260" y="400" width="20" height="20" fill="#8d96a5"/><rect x="280" y="400" width="20" height="20" fill="#9ca5b1"/><rect x="300" y="400" width="20" height="20" fill="#9fa8b4"/><rect x="320" y="400" width="20" height="20" fill="#96a2ae"/><rect x="340" y="400" width="20" height="20" fill="#8a93a2"/><rect x="360" y="400" width="20" height="20" fill="#7b8796"/><rect x="380" y="400" width="20" height="20" fill="#758190"/><rect x="400" y="400" width="20" height="20" fill="#6f7b8d"/><rect x="420" y="400" width="60" height="20" fill="#69758a"/><rect x="480" y="400" width="20" height="20" fill="#66758a"/><rect x="500" y="400" width="100" height="20" fill="#66728a"/><rect x="600" y="400" width="80" height="20" fill="#63728a"/><rect x="680" y="400" width="20" height="20" fill="#636f87"/><rect x="700" y="400" width="20" height="20" fill="#5d6981"/><rect x="720" y="400" width="80" height="20" fill="#5d697e"/><rect x="800" y="400" width="100" height="20" fill="#5a667b"/><rect x="900" y="400" width="60" height="20" fill="#576378"/><rect x="960" y="400" width="20" height="20" fill="#4b5769"/><rect x="980" y="400" width="20" height="20" fill="#454e60"/><rect x="1000" y="400" width="100" height="20" fill="#424e5d"/><rect x="1100" y="400" width="20" height="20" fill="#424b5d"/><rect x="1120" y="400" width="80" height="20" fill="#424b5a"/><rect x="0" y="420" width="40" height="20" fill="#303948"/><rect x="40" y="420" width="40" height="20" fill="#333c4b"/><rect x="80" y="420" width="120" height="20" fill="#363f4e"/><rect x="200" y="420" width="20" height="20" fill="#3f4857"/><rect x="220" y="420" width="20" height="20" fill="#606c7e"/><rect x="240" y="420" width="20" height="20" fill="#788493"/><rect x="260" y="420" width="20" height="20" fill="#8d96a5"/><rect x="280" y="420" width="20" height="20" fill="#9ca5b1"/><rect x="300" y="420" width="20" height="20" fill="#9fa8b4"/><rect x="320" y="420" width="20" height="20" fill="#96a2ae"/><rect x="340" y="420" width="20" height="20" fill="#8793a2"/><rect x="360" y="420" width="20" height="20" fill="#7b8796"/><rect x="380" y="420" width="20" height="20" fill="#758190"/><rect x="400" y="420" width="20" height="20" fill="#6f7b8d"/><rect x="420" y="420" width="60" height="20" fill="#69758a"/><rect x="480" y="420" width="20" height="20" fill="#66758a"/><rect x="500" y="420" width="100" height="20" fill="#66728a"/><rect x="600" y="420" width="80" height="20" fill="#63728a"/><rect x="680" y="420" width="20" height="20" fill="#636f87"/><rect x="700" y="420" width="20" height="20" fill="#5d6981"/><rect x="720" y="420" width="80" height="20" fill="#5d697e"/><rect x="800" y="420" width="100" height="20" fill="#5a667b"/><rect x="900" y="420" width="40" height="20" fill="#576378"/><rect x="940" y="420" width="20" height="20" fill="#4b5769"/><rect x="960" y="420" width="20" height="20" fill="#454e60"/><rect x="980" y="420" width="120" height="20" fill="#424e5d"/><rect x="1100" y="420" width="20" height="20" fill="#424b5d"/><rect x="1120" y="420" width="80" height="20" fill="#424b5a"/><rect x="0" y="440" width="40" height="20" fill="#303948"/><rect x="40" y="440" width="40" height="20" fill="#333c4b"/><rect x="80" y="440" width="20" height="20" fill="#333f4e"/><rect x="100" y="440" width="120" height="20" fill="#363f4e"/><rect x="220" y="440" width="20" height="20" fill="#454e5d"/><rect x="240" y="440" width="20" height="20" fill="#758190"/><rect x="260" y="440" width="20" height="20" fill="#8a96a2"/><rect x="280" y="440" width="20" height="20" fill="#99a2b1"/><rect x="300" y="440" width="20" height="20" fill="#9ca5b1"/><rect x="320" y="440" width="20" height="20" fill="#939fab"/><rect x="340" y="440" width="20" height="20" fill="#87939f"/><rect x="360" y="440" width="20" height="20" fill="#7b8796"/><rect x="380" y="440" width="20" height="20" fill="#727e90"/><rect x="400" y="440" width="20" height="20" fill="#6c788a"/><rect x="420" y="440" width="60" height="20" fill="#667287"/><rect x="480" y="440" width="60" height="20" fill="#636f87"/><rect x="540" y="440" width="20" height="20" fill="#637287"/><rect x="560" y="440" width="40" height="20" fill="#636f87"/><rect x="600" y="440" width="20" height="20" fill="#606f87"/><rect x="620" y="440" width="60" height="20" fill="#636f87"/><rect x="680" y="440" width="20" height="20" fill="#606c84"/><rect x="700" y="440" width="60" height="20" fill="#5d697e"/><rect x="760" y="440" width="40" height="20" fill="#5a667b"/><rect x="800" y="440" width="20" height="20" fill="#576378"/><rect x="820" y="440" width="20" height="20" fill="#5a6678"/><rect x="840" y="440" width="20" height="20" fill="#5a667b"/><rect x="860" y="440" width="20" height="20" fill="#5a6678"/><rect x="880" y="440" width="20" height="20" fill="#576378"/><rect x="900" y="440" width="20" height="20" fill="#546075"/><rect x="920" y="440" width="20" height="20" fill="#4b5469"/><rect x="940" y="440" width="20" height="20" fill="#424e5d"/><rect x="960" y="440" width="140" height="20" fill="#424b5d"/><rect x="1100" y="440" width="20" height="20" fill="#424b5a"/><rect x="1120" y="440" width="80" height="20" fill="#3f4b5a"/><rect x="0" y="460" width="40" height="20" fill="#303948"/><rect x="40" y="460" width="20" height="20" fill="#303c48"/><rect x="60" y="460" width="20" height="20" fill="#333c4b"/><rect x="80" y="460" width="20" height="20" fill="#333f4b"/><rect x="100" y="460" width="120" height="20" fill="#333f4e"/><rect x="220" y="460" width="20" height="20" fill="#363f4e"/><rect x="240" y="460" width="20" height="20" fill="#485463"/><rect x="260" y="460" width="20" height="20" fill="#60697b"/><rect x="280" y="460" width="20" height="20" fill="#666f7e"/><rect x="300" y="460" width="20" height="20" fill="#667281"/><rect x="320" y="460" width="20" height="20" fill="#666f7e"/><rect x="340" y="460" width="20" height="20" fill="#606c7b"/><rect x="360" y="460" width="20" height="20" fill="#5a6678"/><rect x="380" y="460" width="20" height="20" fill="#576072"/><rect x="400" y="460" width="40" height="20" fill="#545d6f"/><rect x="440" y="460" width="20" height="20" fill="#546072"/><rect x="460" y="460" width="20" height="20" fill="#515d6f"/><rect x="480" y="460" width="20" height="20" fill="#515a6c"/><rect x="500" y="460" width="20" height="20" fill="#4e5a6c"/><rect x="520" y="460" width="20" height="20" fill="#515a6f"/><rect x="540" y="460" width="20" height="20" fill="#515d6f"/><rect x="560" y="460" width="20" height="20" fill="#515a6c"/><rect x="580" y="460" width="40" height="20" fill="#4e5769"/><rect x="620" y="460" width="20" height="20" fill="#4e5a6c"/><rect x="640" y="460" width="20" height="20" fill="#515a6f"/><rect x="660" y="460" width="20" height="20" fill="#4e5a6c"/><rect x="680" y="460" width="20" height="20" fill="#4e5769"/><rect x="700" y="460" width="60" height="20" fill="#4b5769"/><rect x="760" y="460" width="80" height="20" fill="#4b5469"/><rect x="840" y="460" width="20" height="20" fill="#485466"/><rect x="860" y="460" width="20" height="20" fill="#485163"/><rect x="880" y="460" width="40" height="20" fill="#455163"/><rect x="920" y="460" width="20" height="20" fill="#424e60"/><rect x="940" y="460" width="160" height="20" fill="#3f4b5a"/><rect x="1100" y="460" width="100" height="20" fill="#3f485a"/><rect x="0" y="480" width="40" height="20" fill="#303948"/><rect x="40" y="480" width="20" height="20" fill="#303c48"/><rect x="60" y="480" width="40" height="20" fill="#333c4b"/><rect x="100" y="480" width="120" height="20" fill="#333f4e"/><rect x="220" y="480" width="20" height="20" fill="#363f4e"/><rect x="240" y="480" width="20" height="20" fill="#4e5a69"/><rect x="260" y="480" width="20" height="20" fill="#606c7b"/><rect x="280" y="480" width="20" height="20" fill="#6f7b87"/><rect x="300" y="480" width="20" height="20" fill="#7b8493"/><rect x="320" y="480" width="20" height="20" fill="#818d9c"/><rect x="340" y="480" width="20" height="20" fill="#8793a2"/><rect x="360" y="480" width="20" height="20" fill="#8a96a5"/><rect x="380" y="480" width="20" height="20" fill="#8d96a5"/><rect x="400" y="480" width="20" height="20" fill="#8a93a2"/><rect x="420" y="480" width="20" height="20" fill="#84909f"/><rect x="440" y="480" width="20" height="20" fill="#7e8a99"/><rect x="460" y="480" width="20" height="20" fill="#758193"/><rect x="480" y="480" width="20" height="20" fill="#6f7b8d"/><rect x="500" y="480" width="20" height="20" fill="#69758a"/><rect x="520" y="480" width="20" height="20" fill="#636f84"/><rect x="540" y="480" width="20" height="20" fill="#5d6981"/><rect x="560" y="480" width="20" height="20" fill="#5d697b"/><rect x="580" y="480" width="20" height="20" fill="#5a667b"/><rect x="600" y="480" width="20" height="20" fill="#5a6678"/><rect x="620" y="480" width="40" height="20" fill="#576378"/><rect x="660" y="480" width="20" height="20" fill="#576375"/><rect x="680" y="480" width="20" height="20" fill="#546075"/><rect x="700" y="480" width="20" height="20" fill="#515d72"/><rect x="720" y="480" width="20" height="20" fill="#4b5769"/><rect x="740" y="480" width="100" height="20" fill="#4b5469"/><rect x="840" y="480" width="20" height="20" fill="#485466"/><rect x="860" y="480" width="80" height="20" fill="#455163"/><rect x="940" y="480" width="20" height="20" fill="#3f4b5a"/><rect x="960" y="480" width="140" height="20" fill="#3f485a"/><rect x="1100" y="480" width="100" height="20" fill="#3f4857"/><rect x="0" y="500" width="40" height="20" fill="#303948"/><rect x="40" y="500" width="20" height="20" fill="#303c48"/><rect x="60" y="500" width="40" height="20" fill="#333c4b"/><rect x="100" y="500" width="100" height="20" fill="#333f4e"/><rect x="200" y="500" width="20" height="20" fill="#363f4e"/><rect x="220" y="500" width="20" height="20" fill="#424e5d"/><rect x="240" y="500" width="20" height="20" fill="#54606f"/><rect x="260" y="500" width="20" height="20" fill="#636f7e"/><rect x="280" y="500" width="20" height="20" fill="#727e8d"/><rect x="300" y="500" width="20" height="20" fill="#7e8a99"/><rect x="320" y="500" width="20" height="20" fill="#8a96a2"/><rect x="340" y="500" width="20" height="20" fill="#909ca8"/><rect x="360" y="500" width="40" height="20" fill="#969fae"/><rect x="400" y="500" width="20" height="20" fill="#939cab"/><rect x="420" y="500" width="20" height="20" fill="#8d99a8"/><rect x="440" y="500" width="20" height="20" fill="#8793a2"/><rect x="460" y="500" width="20" height="20" fill="#7b8799"/><rect x="480" y="500" width="20" height="20" fill="#758193"/><rect x="500" y="500" width="20" height="20" fill="#6c788d"/><rect x="520" y="500" width="20" height="20" fill="#66728a"/><rect x="540" y="500" width="20" height="20" fill="#636f84"/><rect x="560" y="500" width="20" height="20" fill="#606c81"/><rect x="580" y="500" width="20" height="20" fill="#5d697e"/><rect x="600" y="500" width="20" height="20" fill="#5d697b"/><rect x="620" y="500" width="60" height="20" fill="#5a667b"/><rect x="680" y="500" width="20" height="20" fill="#576378"/><rect x="700" y="500" width="20" height="20" fill="#546075"/><rect x="720" y="500" width="20" height="20" fill="#4e5a6c"/><rect x="740" y="500" width="20" height="20" fill="#4b5769"/><rect x="760" y="500" width="80" height="20" fill="#4b5469"/><rect x="840" y="500" width="20" height="20" fill="#485466"/><rect x="860" y="500" width="80" height="20" fill="#455163"/><rect x="940" y="500" width="20" height="20" fill="#454e60"/><rect x="960" y="500" width="20" height="20" fill="#3f4b5d"/><rect x="980" y="500" width="120" height="20" fill="#3f485a"/><rect x="1100" y="500" width="100" height="20" fill="#3f4857"/><rect x="0" y="520" width="40" height="20" fill="#303945"/><rect x="40" y="520" width="20" height="20" fill="#303948"/><rect x="60" y="520" width="20" height="20" fill="#303c4b"/><rect x="80" y="520" width="40" height="20" fill="#333c4b"/><rect x="120" y="520" width="60" height="20" fill="#333f4b"/><rect x="180" y="520" width="20" height="20" fill="#333f4e"/><rect x="200" y="520" width="20" height="20" fill="#394554"/><rect x="220" y="520" width="20" height="20" fill="#485463"/><rect x="240" y="520" width="20" height="20" fill="#54606f"/><rect x="260" y="520" width="20" height="20" fill="#636f7e"/><rect x="280" y="520" width="20" height="20" fill="#727e8d"/><rect x="300" y="520" width="20" height="20" fill="#818a99"/><rect x="320" y="520" width="20" height="20" fill="#8a96a2"/><rect x="340" y="520" width="20" height="20" fill="#909cab"/><rect x="360" y="520" width="20" height="20" fill="#969fae"/><rect x="380" y="520" width="20" height="20" fill="#96a2ae"/><rect x="400" y="520" width="20" height="20" fill="#939fab"/><rect x="420" y="520" width="20" height="20" fill="#8d99a8"/><rect x="440" y="520" width="20" height="20" fill="#8793a2"/><rect x="460" y="520" width="20" height="20" fill="#7e8799"/><rect x="480" y="520" width="20" height="20" fill="#758193"/><rect x="500" y="520" width="20" height="20" fill="#6c788d"/><rect x="520" y="520" width="20" height="20" fill="#66728a"/><rect x="540" y="520" width="20" height="20" fill="#636f84"/><rect x="560" y="520" width="20" height="20" fill="#606c81"/><rect x="580" y="520" width="40" height="20" fill="#5d697e"/><rect x="620" y="520" width="20" height="20" fill="#5d697b"/><rect x="640" y="520" width="40" height="20" fill="#5a667b"/><rect x="680" y="520" width="20" height="20" fill="#57637b"/><rect x="700" y="520" width="20" height="20" fill="#546078"/><rect x="720" y="520" width="20" height="20" fill="#515a6f"/><rect x="740" y="520" width="20" height="20" fill="#4b5769"/><rect x="760" y="520" width="80" height="20" fill="#4b5469"/><rect x="840" y="520" width="20" height="20" fill="#485466"/><rect x="860" y="520" width="80" height="20" fill="#455163"/><rect x="940" y="520" width="20" height="20" fill="#454e63"/><rect x="960" y="520" width="20" height="20" fill="#424e60"/><rect x="980" y="520" width="20" height="20" fill="#424b5d"/><rect x="1000" y="520" width="20" height="20" fill="#3f4b5a"/><rect x="1020" y="520" width="80" height="20" fill="#3f485a"/><rect x="1100" y="520" width="100" height="20" fill="#3f4857"/><rect x="0" y="540" width="40" height="20" fill="#2d3642"/><rect x="40" y="540" width="20" height="20" fill="#2d3645"/><rect x="60" y="540" width="20" height="20" fill="#303948"/><rect x="80" y="540" width="20" height="20" fill="#333c48"/><rect x="100" y="540" width="60" height="20" fill="#333c4b"/><rect x="160" y="540" width="20" height="20" fill="#333f4b"/><rect x="180" y="540" width="20" height="20" fill="#363f4e"/><rect x="200" y="540" width="20" height="20" fill="#3c4857"/><rect x="220" y="540" width="20" height="20" fill="#485463"/><rect x="240" y="540" width="20" height="20" fill="#54606f"/><rect x="260" y="540" width="20" height="20" fill="#636f7e"/><rect x="280" y="540" width="20" height="20" fill="#727e8d"/><rect x="300" y="540" width="20" height="20" fill="#818a99"/><rect x="320" y="540" width="20" height="20" fill="#8a96a2"/><rect x="340" y="540" width="20" height="20" fill="#909cab"/><rect x="360" y="540" width="20" height="20" fill="#969fae"/><rect x="380" y="540" width="20" height="20" fill="#96a2ae"/><rect x="400" y="540" width="20" height="20" fill="#939fab"/><rect x="420" y="540" width="20" height="20" fill="#8d99a8"/><rect x="440" y="540" width="20" height="20" fill="#8793a2"/><rect x="460" y="540" width="20" height="20" fill="#7e8799"/><rect x="480" y="540" width="20" height="20" fill="#758193"/><rect x="500" y="540" width="20" height="20" fill="#6c788d"/><rect x="520" y="540" width="20" height="20" fill="#66728a"/><rect x="540" y="540" width="20" height="20" fill="#636f84"/><rect x="560" y="540" width="20" height="20" fill="#606c81"/><rect x="580" y="540" width="40" height="20" fill="#5d697e"/><rect x="620" y="540" width="20" height="20" fill="#5d697b"/><rect x="640" y="540" width="40" height="20" fill="#5a667b"/><rect x="680" y="540" width="20" height="20" fill="#57637b"/><rect x="700" y="540" width="20" height="20" fill="#546078"/><rect x="720" y="540" width="20" height="20" fill="#515d72"/><rect x="740" y="540" width="20" height="20" fill="#4e576c"/><rect x="760" y="540" width="20" height="20" fill="#4b5769"/><rect x="780" y="540" width="60" height="20" fill="#4b5469"/><rect x="840" y="540" width="20" height="20" fill="#485466"/><rect x="860" y="540" width="80" height="20" fill="#455163"/><rect x="940" y="540" width="20" height="20" fill="#454e63"/><rect x="960" y="540" width="40" height="20" fill="#424e60"/><rect x="1000" y="540" width="20" height="20" fill="#424b5d"/><rect x="1020" y="540" width="40" height="20" fill="#3f485a"/><rect x="1060" y="540" width="40" height="20" fill="#3f4857"/><rect x="1100" y="540" width="40" height="20" fill="#3c4857"/><rect x="1140" y="540" width="60" height="20" fill="#3c4557"/><rect x="0" y="560" width="20" height="20" fill="#2a3342"/><rect x="20" y="560" width="40" height="20" fill="#2d3642"/><rect x="60" y="560" width="20" height="20" fill="#303945"/><rect x="80" y="560" width="20" height="20" fill="#303c48"/><rect x="100" y="560" width="20" height="20" fill="#333c48"/><rect x="120" y="560" width="40" height="20" fill="#333c4b"/><rect x="160" y="560" width="20" height="20" fill="#333f4b"/><rect x="180" y="560" width="20" height="20" fill="#364251"/><rect x="200" y="560" width="20" height="20" fill="#3c4857"/><rect x="220" y="560" width="20" height="20" fill="#485463"/><rect x="240" y="560" width="20" height="20" fill="#54606f"/><rect x="260" y="560" width="20" height="20" fill="#636f7e"/><rect x="280" y="560" width="20" height="20" fill="#727e8d"/><rect x="300" y="560" width="20" height="20" fill="#818a99"/><rect x="320" y="560" width="20" height="20" fill="#8a96a2"/><rect x="340" y="560" width="20" height="20" fill="#909cab"/><rect x="360" y="560" width="20" height="20" fill="#969fae"/><rect x="380" y="560" width="20" height="20" fill="#96a2ae"/><rect x="400" y="560" width="20" height="20" fill="#939fab"/><rect x="420" y="560" width="20" height="20" fill="#8d99a8"/><rect x="440" y="560" width="20" height="20" fill="#8793a2"/><rect x="460" y="560" width="20" height="20" fill="#7e8799"/><rect x="480" y="560" width="20" height="20" fill="#758193"/><rect x="500" y="560" width="20" height="20" fill="#6c788d"/><rect x="520" y="560" width="20" height="20" fill="#66728a"/><rect x="540" y="560" width="20" height="20" fill="#636f84"/><rect x="560" y="560" width="20" height="20" fill="#606c81"/><rect x="580" y="560" width="40" height="20" fill="#5d697e"/><rect x="620" y="560" width="20" height="20" fill="#5d697b"/><rect x="640" y="560" width="40" height="20" fill="#5a667b"/><rect x="680" y="560" width="20" height="20" fill="#57637b"/><rect x="700" y="560" width="20" height="20" fill="#546078"/><rect x="720" y="560" width="20" height="20" fill="#546075"/><rect x="740" y="560" width="20" height="20" fill="#4e5a6f"/><rect x="760" y="560" width="40" height="20" fill="#4b5769"/><rect x="800" y="560" width="40" height="20" fill="#4b5469"/><rect x="840" y="560" width="20" height="20" fill="#485466"/><rect x="860" y="560" width="80" height="20" fill="#455163"/><rect x="940" y="560" width="20" height="20" fill="#454e63"/><rect x="960" y="560" width="40" height="20" fill="#424e60"/><rect x="1000" y="560" width="20" height="20" fill="#424e5d"/><rect x="1020" y="560" width="20" height="20" fill="#3f4b5a"/><rect x="1040" y="560" width="20" height="20" fill="#3f485a"/><rect x="1060" y="560" width="40" height="20" fill="#3f4857"/><rect x="1100" y="560" width="20" height="20" fill="#3c4857"/><rect x="1120" y="560" width="80" height="20" fill="#3c4557"/><rect x="0" y="580" width="20" height="20" fill="#2a333f"/><rect x="20" y="580" width="40" height="20" fill="#2d3642"/><rect x="60" y="580" width="20" height="20" fill="#303945"/><rect x="80" y="580" width="20" height="20" fill="#303948"/><rect x="100" y="580" width="20" height="20" fill="#333c48"/><rect x="120" y="580" width="40" height="20" fill="#333c4b"/><rect x="160" y="580" width="20" height="20" fill="#333f4e"/><rect x="180" y="580" width="20" height="20" fill="#364251"/><rect x="200" y="580" width="20" height="20" fill="#3c4857"/><rect x="220" y="580" width="20" height="20" fill="#485463"/><rect x="240" y="580" width="20" height="20" fill="#54606f"/><rect x="260" y="580" width="20" height="20" fill="#636f7e"/><rect x="280" y="580" width="20" height="20" fill="#727e8d"/><rect x="300" y="580" width="20" height="20" fill="#818a99"/><rect x="320" y="580" width="20" height="20" fill="#8a96a2"/><rect x="340" y="580" width="20" height="20" fill="#909cab"/><rect x="360" y="580" width="20" height="20" fill="#969fae"/><rect x="380" y="580" width="20" height="20" fill="#96a2ae"/><rect x="400" y="580" width="20" height="20" fill="#939fab"/><rect x="420" y="580" width="20" height="20" fill="#8d99a8"/><rect x="440" y="580" width="20" height="20" fill="#8793a2"/><rect x="460" y="580" width="20" height="20" fill="#7e8799"/><rect x="480" y="580" width="20" height="20" fill="#758193"/><rect x="500" y="580" width="20" height="20" fill="#6c788d"/><rect x="520" y="580" width="20" height="20" fill="#66728a"/><rect x="540" y="580" width="20" height="20" fill="#636f84"/><rect x="560" y="580" width="20" height="20" fill="#606c81"/><rect x="580" y="580" width="40" height="20" fill="#5d697e"/><rect x="620" y="580" width="20" height="20" fill="#5d697b"/><rect x="640" y="580" width="40" height="20" fill="#5a667b"/><rect x="680" y="580" width="20" height="20" fill="#57637b"/><rect x="700" y="580" width="20" height="20" fill="#546078"/><rect x="720" y="580" width="20" height="20" fill="#546075"/><rect x="740" y="580" width="20" height="20" fill="#515d72"/><rect x="760" y="580" width="20" height="20" fill="#4e576c"/><rect x="780" y="580" width="20" height="20" fill="#4b5769"/><rect x="800" y="580" width="40" height="20" fill="#4b5469"/><rect x="840" y="580" width="20" height="20" fill="#485466"/><rect x="860" y="580" width="80" height="20" fill="#455163"/><rect x="940" y="580" width="20" height="20" fill="#454e63"/><rect x="960" y="580" width="60" height="20" fill="#424e60"/><rect x="1020" y="580" width="20" height="20" fill="#3f4b5d"/><rect x="1040" y="580" width="20" height="20" fill="#3f485a"/><rect x="1060" y="580" width="40" height="20" fill="#3f4857"/><rect x="1100" y="580" width="20" height="20" fill="#3c4857"/><rect x="1120" y="580" width="80" height="20" fill="#3c4557"/><rect x="0" y="600" width="20" height="20" fill="#2a303c"/><rect x="20" y="600" width="40" height="20" fill="#2a333f"/><rect x="60" y="600" width="20" height="20" fill="#2d3642"/><rect x="80" y="600" width="20" height="20" fill="#303945"/><rect x="100" y="600" width="40" height="20" fill="#303c48"/><rect x="140" y="600" width="20" height="20" fill="#303c4b"/><rect x="160" y="600" width="20" height="20" fill="#333f4e"/><rect x="180" y="600" width="20" height="20" fill="#394251"/><rect x="200" y="600" width="20" height="20" fill="#3c485a"/><rect x="220" y="600" width="20" height="20" fill="#485463"/><rect x="240" y="600" width="20" height="20" fill="#54606f"/><rect x="260" y="600" width="20" height="20" fill="#636f7e"/><rect x="280" y="600" width="20" height="20" fill="#727e8d"/><rect x="300" y="600" width="20" height="20" fill="#818a99"/><rect x="320" y="600" width="20" height="20" fill="#8a96a2"/><rect x="340" y="600" width="20" height="20" fill="#909cab"/><rect x="360" y="600" width="20" height="20" fill="#969fae"/><rect x="380" y="600" width="20" height="20" fill="#96a2ae"/><rect x="400" y="600" width="20" height="20" fill="#939fab"/><rect x="420" y="600" width="20" height="20" fill="#8d99a8"/><rect x="440" y="600" width="20" height="20" fill="#8793a2"/><rect x="460" y="600" width="20" height="20" fill="#7e8799"/><rect x="480" y="600" width="20" height="20" fill="#758193"/><rect x="500" y="600" width="20" height="20" fill="#6c788d"/><rect x="520" y="600" width="20" height="20" fill="#66728a"/><rect x="540" y="600" width="20" height="20" fill="#636f84"/><rect x="560" y="600" width="20" height="20" fill="#606c81"/><rect x="580" y="600" width="40" height="20" fill="#5d697e"/><rect x="620" y="600" width="20" height="20" fill="#5d697b"/><rect x="640" y="600" width="40" height="20" fill="#5a667b"/><rect x="680" y="600" width="20" height="20" fill="#57637b"/><rect x="700" y="600" width="20" height="20" fill="#546078"/><rect x="720" y="600" width="20" height="20" fill="#546075"/><rect x="740" y="600" width="20" height="20" fill="#515d72"/><rect x="760" y="600" width="20" height="20" fill="#4e5a6c"/><rect x="780" y="600" width="20" height="20" fill="#4b5769"/><rect x="800" y="600" width="20" height="20" fill="#4b5469"/><rect x="820" y="600" width="20" height="20" fill="#485466"/><rect x="840" y="600" width="20" height="20" fill="#485166"/><rect x="860" y="600" width="80" height="20" fill="#455163"/><rect x="940" y="600" width="20" height="20" fill="#454e60"/><rect x="960" y="600" width="40" height="20" fill="#424e60"/><rect x="1000" y="600" width="20" height="20" fill="#424e5d"/><rect x="1020" y="600" width="20" height="20" fill="#3f4b5d"/><rect x="1040" y="600" width="20" height="20" fill="#3f485a"/><rect x="1060" y="600" width="20" height="20" fill="#3f4857"/><rect x="1080" y="600" width="20" height="20" fill="#3c4857"/><rect x="1100" y="600" width="100" height="20" fill="#3c4557"/><rect x="0" y="620" width="20" height="20" fill="#242d36"/><rect x="20" y="620" width="20" height="20" fill="#272d39"/><rect x="40" y="620" width="20" height="20" fill="#27303c"/><rect x="60" y="620" width="20" height="20" fill="#2a333f"/><rect x="80" y="620" width="20" height="20" fill="#2d3642"/><rect x="100" y="620" width="20" height="20" fill="#303945"/><rect x="120" y="620" width="40" height="20" fill="#303948"/><rect x="160" y="620" width="20" height="20" fill="#333f4b"/><rect x="180" y="620" width="20" height="20" fill="#394251"/><rect x="200" y="620" width="20" height="20" fill="#3c485a"/><rect x="220" y="620" width="20" height="20" fill="#485463"/><rect x="240" y="620" width="20" height="20" fill="#54606f"/><rect x="260" y="620" width="20" height="20" fill="#636f7e"/><rect x="280" y="620" width="20" height="20" fill="#727e8d"/><rect x="300" y="620" width="20" height="20" fill="#818a99"/><rect x="320" y="620" width="20" height="20" fill="#8a96a2"/><rect x="340" y="620" width="20" height="20" fill="#909cab"/><rect x="360" y="620" width="20" height="20" fill="#969fae"/><rect x="380" y="620" width="20" height="20" fill="#96a2ae"/><rect x="400" y="620" width="20" height="20" fill="#939fab"/><rect x="420" y="620" width="20" height="20" fill="#8d99a8"/><rect x="440" y="620" width="20" height="20" fill="#8793a2"/><rect x="460" y="620" width="20" height="20" fill="#7e8799"/><rect x="480" y="620" width="20" height="20" fill="#758193"/><rect x="500" y="620" width="20" height="20" fill="#6c788d"/><rect x="520" y="620" width="20" height="20" fill="#66728a"/><rect x="540" y="620" width="20" height="20" fill="#636f84"/><rect x="560" y="620" width="20" height="20" fill="#606c81"/><rect x="580" y="620" width="40" height="20" fill="#5d697e"/><rect x="620" y="620" width="20" height="20" fill="#5d697b"/><rect x="640" y="620" width="40" height="20" fill="#5a667b"/><rect x="680" y="620" width="20" height="20" fill="#57637b"/><rect x="700" y="620" width="20" height="20" fill="#546078"/><rect x="720" y="620" width="20" height="20" fill="#546075"/><rect x="740" y="620" width="20" height="20" fill="#515d72"/><rect x="760" y="620" width="20" height="20" fill="#4e5a6c"/><rect x="780" y="620" width="20" height="20" fill="#4b5469"/><rect x="800" y="620" width="20" height="20" fill="#485163"/><rect x="820" y="620" width="20" height="20" fill="#455163"/><rect x="840" y="620" width="20" height="20" fill="#454e60"/><rect x="860" y="620" width="80" height="20" fill="#424e60"/><rect x="940" y="620" width="20" height="20" fill="#424b5d"/><rect x="960" y="620" width="40" height="20" fill="#3f4b5d"/><rect x="1000" y="620" width="20" height="20" fill="#3f4b5a"/><rect x="1020" y="620" width="20" height="20" fill="#3f485a"/><rect x="1040" y="620" width="20" height="20" fill="#3f4857"/><rect x="1060" y="620" width="40" height="20" fill="#3c4857"/><rect x="1100" y="620" width="20" height="20" fill="#3c4557"/><rect x="1120" y="620" width="80" height="20" fill="#3c4554"/><rect x="0" y="640" width="20" height="20" fill="#242a36"/><rect x="20" y="640" width="20" height="20" fill="#242d36"/><rect x="40" y="640" width="20" height="20" fill="#273039"/><rect x="60" y="640" width="20" height="20" fill="#2a333f"/><rect x="80" y="640" width="20" height="20" fill="#2d3642"/><rect x="100" y="640" width="40" height="20" fill="#2d3645"/><rect x="140" y="640" width="20" height="20" fill="#2d3945"/><rect x="160" y="640" width="20" height="20" fill="#303c4b"/><rect x="180" y="640" width="20" height="20" fill="#364251"/><rect x="200" y="640" width="20" height="20" fill="#3c4857"/><rect x="220" y="640" width="20" height="20" fill="#485463"/><rect x="240" y="640" width="20" height="20" fill="#54606f"/><rect x="260" y="640" width="20" height="20" fill="#636f7e"/><rect x="280" y="640" width="20" height="20" fill="#727e8d"/><rect x="300" y="640" width="20" height="20" fill="#818a99"/><rect x="320" y="640" width="20" height="20" fill="#8a96a2"/><rect x="340" y="640" width="20" height="20" fill="#909cab"/><rect x="360" y="640" width="20" height="20" fill="#969fae"/><rect x="380" y="640" width="20" height="20" fill="#96a2ae"/><rect x="400" y="640" width="20" height="20" fill="#939fab"/><rect x="420" y="640" width="20" height="20" fill="#8d99a8"/><rect x="440" y="640" width="20" height="20" fill="#8793a2"/><rect x="460" y="640" width="20" height="20" fill="#7e8799"/><rect x="480" y="640" width="20" height="20" fill="#758193"/><rect x="500" y="640" width="20" height="20" fill="#6c788d"/><rect x="520" y="640" width="20" height="20" fill="#66728a"/><rect x="540" y="640" width="20" height="20" fill="#636f84"/><rect x="560" y="640" width="20" height="20" fill="#606c81"/><rect x="580" y="640" width="40" height="20" fill="#5d697e"/><rect x="620" y="640" width="20" height="20" fill="#5d697b"/><rect x="640" y="640" width="40" height="20" fill="#5a667b"/><rect x="680" y="640" width="20" height="20" fill="#57637b"/><rect x="700" y="640" width="20" height="20" fill="#546078"/><rect x="720" y="640" width="20" height="20" fill="#546075"/><rect x="740" y="640" width="20" height="20" fill="#515d72"/><rect x="760" y="640" width="20" height="20" fill="#4b5769"/><rect x="780" y="640" width="20" height="20" fill="#455160"/><rect x="800" y="640" width="20" height="20" fill="#424b5d"/><rect x="820" y="640" width="20" height="20" fill="#3f4b5a"/><rect x="840" y="640" width="20" height="20" fill="#3f485a"/><rect x="860" y="640" width="60" height="20" fill="#3c485a"/><rect x="920" y="640" width="180" height="20" fill="#3c4857"/><rect x="1100" y="640" width="20" height="20" fill="#3c4557"/><rect x="1120" y="640" width="80" height="20" fill="#3c4554"/><rect x="0" y="660" width="20" height="20" fill="#242a36"/><rect x="20" y="660" width="20" height="20" fill="#242d36"/><rect x="40" y="660" width="20" height="20" fill="#273039"/><rect x="60" y="660" width="20" height="20" fill="#2a333f"/><rect x="80" y="660" width="60" height="20" fill="#2d3642"/><rect x="140" y="660" width="20" height="20" fill="#2d3645"/><rect x="160" y="660" width="20" height="20" fill="#303948"/><rect x="180" y="660" width="20" height="20" fill="#363f4e"/><rect x="200" y="660" width="20" height="20" fill="#3c4857"/><rect x="220" y="660" width="20" height="20" fill="#485463"/><rect x="240" y="660" width="20" height="20" fill="#54606f"/><rect x="260" y="660" width="20" height="20" fill="#636f7e"/><rect x="280" y="660" width="20" height="20" fill="#727e8d"/><rect x="300" y="660" width="20" height="20" fill="#818a99"/><rect x="320" y="660" width="20" height="20" fill="#8a96a2"/><rect x="340" y="660" width="20" height="20" fill="#909cab"/><rect x="360" y="660" width="20" height="20" fill="#969fae"/><rect x="380" y="660" width="20" height="20" fill="#96a2ae"/><rect x="400" y="660" width="20" height="20" fill="#939fab"/><rect x="420" y="660" width="20" height="20" fill="#8d99a8"/><rect x="440" y="660" width="20" height="20" fill="#8793a2"/><rect x="460" y="660" width="20" height="20" fill="#7e8799"/><rect x="480" y="660" width="20" height="20" fill="#758193"/><rect x="500" y="660" width="20" height="20" fill="#6c788d"/><rect x="520" y="660" width="20" height="20" fill="#66728a"/><rect x="540" y="660" width="20" height="20" fill="#636f84"/><rect x="560" y="660" width="20" height="20" fill="#606c81"/><rect x="580" y="660" width="40" height="20" fill="#5d697e"/><rect x="620" y="660" width="20" height="20" fill="#5d697b"/><rect x="640" y="660" width="40" height="20" fill="#5a667b"/><rect x="680" y="660" width="20" height="20" fill="#57637b"/><rect x="700" y="660" width="20" height="20" fill="#546078"/><rect x="720" y="660" width="20" height="20" fill="#545d75"/><rect x="740" y="660" width="20" height="20" fill="#4b576c"/><rect x="760" y="660" width="20" height="20" fill="#455163"/><rect x="780" y="660" width="20" height="20" fill="#3f4b5a"/><rect x="800" y="660" width="20" height="20" fill="#3c485a"/><rect x="820" y="660" width="40" height="20" fill="#3c4857"/><rect x="860" y="660" width="100" height="20" fill="#3c4557"/><rect x="960" y="660" width="40" height="20" fill="#394554"/><rect x="1000" y="660" width="20" height="20" fill="#3c4554"/><rect x="1020" y="660" width="20" height="20" fill="#3c4557"/><rect x="1040" y="660" width="60" height="20" fill="#3c4857"/><rect x="1100" y="660" width="20" height="20" fill="#3c4557"/><rect x="1120" y="660" width="80" height="20" fill="#3c4554"/></g><linearGradient id="stk" x1="0" y1="0" x2="1" y2="0"><stop offset="0" stop-color="#a9b3c2" stop-opacity="0"/><stop offset="0.3" stop-color="#a9b3c2" stop-opacity="0.8"/><stop offset="0.55" stop-color="#aeb7c5" stop-opacity="1"/><stop offset="0.8" stop-color="#a0abbb" stop-opacity="0.7"/><stop offset="1" stop-color="#a0abbb" stop-opacity="0"/></linearGradient><rect x="216" y="-2" width="56" height="26" fill="url(#stk)"/><g mask="url(#mc)"><rect width="1200" height="675" filter="url(#cw)" opacity="0.7"/><rect width="1200" height="675" filter="url(#cb)" opacity="0.85"/></g><g mask="url(#mf)"><rect width="1200" height="675" filter="url(#fw)" opacity="0.55"/><rect width="1200" height="675" filter="url(#fb)" opacity="0.95"/></g><filter id="pb" x="-50%" y="-50%" width="200%" height="200%"><feGaussianBlur stdDeviation="0.9"/></filter><g filter="url(#pb)"><ellipse cx="96" cy="370" rx="6" ry="3" fill="#0e121a" opacity="0.8"/><ellipse cx="93" cy="364.5" rx="8" ry="3.8" fill="#aeb0b8" opacity="0.85"/><ellipse cx="1149" cy="590" rx="6" ry="9" fill="#0e121a" opacity="0.55"/></g><filter id="bk" x="-20%" y="-20%" width="140%" height="140%"><feGaussianBlur stdDeviation="2.2"/></filter><g filter="url(#bk)"><ellipse cx="418" cy="655" rx="7.0" ry="6.8" fill="#dfe4ea" opacity="0.51"/><ellipse cx="487" cy="600" rx="5.3" ry="5.2" fill="#dfe4ea" opacity="0.48"/><ellipse cx="482" cy="607" rx="5.3" ry="3.7" fill="#dfe4ea" opacity="0.44"/><ellipse cx="407" cy="599" rx="4.1" ry="2.9" fill="#dfe4ea" opacity="0.57"/><ellipse cx="451" cy="610" rx="7.0" ry="4.6" fill="#dfe4ea" opacity="0.47"/><ellipse cx="304" cy="598" rx="7.4" ry="5.0" fill="#dfe4ea" opacity="0.33"/><ellipse cx="501" cy="665" rx="4.4" ry="4.4" fill="#dfe4ea" opacity="0.44"/><ellipse cx="431" cy="614" rx="7.7" ry="6.8" fill="#dfe4ea" opacity="0.59"/><ellipse cx="481" cy="621" rx="4.8" ry="3.2" fill="#dfe4ea" opacity="0.30"/><ellipse cx="290" cy="621" rx="6.0" ry="3.6" fill="#dfe4ea" opacity="0.49"/><ellipse cx="353" cy="622" rx="7.1" ry="5.6" fill="#dfe4ea" opacity="0.36"/><ellipse cx="386" cy="652" rx="3.3" ry="3.3" fill="#dfe4ea" opacity="0.26"/><ellipse cx="447" cy="663" rx="3.1" ry="2.8" fill="#dfe4ea" opacity="0.38"/><ellipse cx="408" cy="599" rx="3.2" ry="2.2" fill="#dfe4ea" opacity="0.58"/><ellipse cx="320" cy="656" rx="7.6" ry="7.5" fill="#dfe4ea" opacity="0.37"/><ellipse cx="357" cy="638" rx="6.9" ry="4.4" fill="#dfe4ea" opacity="0.51"/><ellipse cx="458" cy="664" rx="3.2" ry="3.1" fill="#dfe4ea" opacity="0.28"/><ellipse cx="353" cy="645" rx="7.6" ry="5.6" fill="#dfe4ea" opacity="0.57"/><ellipse cx="400" cy="622" rx="4.6" ry="3.1" fill="#dfe4ea" opacity="0.28"/><ellipse cx="309" cy="651" rx="8.0" ry="5.3" fill="#dfe4ea" opacity="0.27"/><ellipse cx="502" cy="639" rx="5.0" ry="3.5" fill="#dfe4ea" opacity="0.46"/><ellipse cx="465" cy="633" rx="5.1" ry="3.2" fill="#dfe4ea" opacity="0.57"/><ellipse cx="283" cy="636" rx="7.2" ry="4.7" fill="#dfe4ea" opacity="0.51"/><ellipse cx="493" cy="647" rx="6.9" ry="4.5" fill="#dfe4ea" opacity="0.40"/><ellipse cx="309" cy="663" rx="4.5" ry="3.5" fill="#dfe4ea" opacity="0.60"/><ellipse cx="471" cy="673" rx="5.3" ry="4.2" fill="#dfe4ea" opacity="0.51"/><ellipse cx="385" cy="620" rx="5.0" ry="3.3" fill="#dfe4ea" opacity="0.38"/><ellipse cx="502" cy="672" rx="6.1" ry="4.9" fill="#dfe4ea" opacity="0.37"/><ellipse cx="296" cy="619" rx="6.9" ry="6.5" fill="#dfe4ea" opacity="0.38"/><ellipse cx="456" cy="658" rx="6.5" ry="5.6" fill="#dfe4ea" opacity="0.52"/><ellipse cx="359" cy="652" rx="4.4" ry="3.5" fill="#dfe4ea" opacity="0.52"/><ellipse cx="434" cy="621" rx="7.7" ry="6.6" fill="#dfe4ea" opacity="0.45"/><ellipse cx="278" cy="640" rx="4.3" ry="3.7" fill="#dfe4ea" opacity="0.41"/><ellipse cx="463" cy="648" rx="7.0" ry="5.2" fill="#dfe4ea" opacity="0.48"/><path d="M395,662 L488,622" stroke="#d5dbe3" stroke-width="6" stroke-linecap="round" opacity="0.35"/></g></svg><div class="a" style="left:123.5px;top:20.8px;width:898.5px;height:290.6px;background:#fff"></div><div class="a" style="left:134.5px;top:30.5px;width:877px;height:269px;background:#e6e7ea;border:1px solid #8f9196;border-radius:6px"></div><div class="card" style="left:143px;top:41px;width:116px;height:85px"></div><div class="t" style="left:137.70px;width:130px;top:46.86px;text-align:center;font-size:9.5px;font-weight:700;color:#222;"><span style="display:inline-block;transform:scaleX(0.89);transform-origin:50% 50%">Crash Reports Metric</span></div><div class="t" style="left:137.70px;width:130px;top:64.48px;text-align:center;font-size:30.5px;font-weight:700;color:#000;"><span style="display:inline-block;transform:scaleX(0.94);transform-origin:50% 50%">680</span></div><div class="t" style="left:137.70px;width:130px;top:100.70px;text-align:center;font-size:9.1px;font-weight:700;color:#222;"><span style="display:inline-block;transform:scaleX(1.0);transform-origin:50% 50%">Crash Reports</span></div><div class="card" style="left:267px;top:41px;width:116px;height:85px"></div><div class="t" style="left:261.03px;width:130px;top:46.86px;text-align:center;font-size:9.5px;font-weight:700;color:#222;"><span style="display:inline-block;transform:scaleX(0.89);transform-origin:50% 50%">Fatal Injuries Metric</span></div><div class="t" style="left:261.03px;width:130px;top:64.48px;text-align:center;font-size:30.5px;font-weight:700;color:#000;"><span style="display:inline-block;transform:scaleX(0.94);transform-origin:50% 50%">5</span></div><div class="t" style="left:261.03px;width:130px;top:100.70px;text-align:center;font-size:9.1px;font-weight:700;color:#222;"><span style="display:inline-block;transform:scaleX(1.0);transform-origin:50% 50%">Fatal Injuries</span></div><div class="card" style="left:391px;top:41px;width:116px;height:85px"></div><div class="t" style="left:384.36px;width:130px;top:46.86px;text-align:center;font-size:9.5px;font-weight:700;color:#222;"><span style="display:inline-block;transform:scaleX(0.89);transform-origin:50% 50%">Hit and Run Metric</span></div><div class="t" style="left:384.36px;width:130px;top:64.48px;text-align:center;font-size:30.5px;font-weight:700;color:#000;"><span style="display:inline-block;transform:scaleX(0.94);transform-origin:50% 50%">107</span></div><div class="t" style="left:384.36px;width:130px;top:100.70px;text-align:center;font-size:9.1px;font-weight:700;color:#222;"><span style="display:inline-block;transform:scaleX(1.0);transform-origin:50% 50%">Hit and Run Crashes</span></div><div class="card" style="left:515px;top:41px;width:116px;height:85px"></div><div class="t" style="left:507.69px;width:130px;top:46.86px;text-align:center;font-size:9.5px;font-weight:700;color:#222;"><span style="display:inline-block;transform:scaleX(0.89);transform-origin:50% 50%">Total Injuries Metric</span></div><div class="t" style="left:507.69px;width:130px;top:64.48px;text-align:center;font-size:30.5px;font-weight:700;color:#000;"><span style="display:inline-block;transform:scaleX(0.94);transform-origin:50% 50%">220</span></div><div class="t" style="left:507.69px;width:130px;top:100.70px;text-align:center;font-size:9.1px;font-weight:700;color:#222;"><span style="display:inline-block;transform:scaleX(1.0);transform-origin:50% 50%">Total Injuries</span></div><div class="card" style="left:639px;top:41px;width:116px;height:85px"></div><div class="t" style="left:631.02px;width:130px;top:46.86px;text-align:center;font-size:9.5px;font-weight:700;color:#222;"><span style="display:inline-block;transform:scaleX(0.89);transform-origin:50% 50%">Vehicles Involved Metric</span></div><div class="t" style="left:631.02px;width:130px;top:64.48px;text-align:center;font-size:30.5px;font-weight:700;color:#000;"><span style="display:inline-block;transform:scaleX(0.94);transform-origin:50% 50%">1,248</span></div><div class="t" style="left:631.02px;width:130px;top:100.70px;text-align:center;font-size:9.1px;font-weight:700;color:#222;"><span style="display:inline-block;transform:scaleX(1.0);transform-origin:50% 50%">Total Vehicles Involved</span></div><div class="card" style="left:763px;top:41px;width:116px;height:85px"></div><div class="t" style="left:754.35px;width:130px;top:46.86px;text-align:center;font-size:9.5px;font-weight:700;color:#222;"><span style="display:inline-block;transform:scaleX(0.89);transform-origin:50% 50%">Property Damage</span></div><div class="t" style="left:754.35px;width:130px;top:55.66px;text-align:center;font-size:9.5px;font-weight:700;color:#222;"><span style="display:inline-block;transform:scaleX(0.89);transform-origin:50% 50%">Crash Metric</span></div><div class="t" style="left:754.35px;width:130px;top:64.48px;text-align:center;font-size:30.5px;font-weight:700;color:#000;"><span style="display:inline-block;transform:scaleX(0.94);transform-origin:50% 50%">64</span></div><div class="t" style="left:754.35px;width:130px;top:101.50px;text-align:center;font-size:9.1px;font-weight:700;color:#222;"><span style="display:inline-block;transform:scaleX(1.0);transform-origin:50% 50%">Property Damage</span></div><div class="t" style="left:754.35px;width:130px;top:112.30px;text-align:center;font-size:9.1px;font-weight:700;color:#222;"><span style="display:inline-block;transform:scaleX(1.0);transform-origin:50% 50%">Crashes</span></div><div class="card" style="left:887px;top:41px;width:116px;height:85px"></div><div class="t" style="left:877.68px;width:130px;top:46.86px;text-align:center;font-size:9.5px;font-weight:700;color:#222;"><span style="display:inline-block;transform:scaleX(0.89);transform-origin:50% 50%">Pedestrian Crashes Metric</span></div><div class="t" style="left:877.68px;width:130px;top:64.48px;text-align:center;font-size:30.5px;font-weight:700;color:#000;"><span style="display:inline-block;transform:scaleX(0.94);transform-origin:50% 50%">4</span></div><div class="t" style="left:877.68px;width:130px;top:101.50px;text-align:center;font-size:9.1px;font-weight:700;color:#222;"><span style="display:inline-block;transform:scaleX(1.0);transform-origin:50% 50%">Pedestrian</span></div><div class="t" style="left:877.68px;width:130px;top:112.30px;text-align:center;font-size:9.1px;font-weight:700;color:#222;"><span style="display:inline-block;transform:scaleX(1.0);transform-origin:50% 50%">Crashes</span></div><div class="card" style="left:142.6px;top:130.5px;width:138.4px;height:157px"></div><div class="t" style="left:151.75px;top:133.64px;font-size:9.4px;font-weight:700;color:#1a1a1a;transform:scaleX(0.89);transform-origin:0 50%;">Roadway Surface Condition</div><div class="card" style="left:286.2px;top:130.5px;width:138.4px;height:157px"></div><div class="t" style="left:293.40px;top:133.64px;font-size:9.4px;font-weight:700;color:#1a1a1a;transform:scaleX(0.89);transform-origin:0 50%;">Injury Severity Breakdown</div><div class="card" style="left:430.2px;top:130.5px;width:138.4px;height:157px"></div><div class="t" style="left:437.60px;top:133.64px;font-size:9.4px;font-weight:700;color:#1a1a1a;transform:scaleX(0.89);transform-origin:0 50%;">Light Condition</div><div class="card" style="left:574.2px;top:130.5px;width:138.4px;height:157px"></div><div class="t" style="left:580.90px;top:133.64px;font-size:9.4px;font-weight:700;color:#1a1a1a;transform:scaleX(0.89);transform-origin:0 50%;">Cause of Crash</div><div class="card" style="left:719.1px;top:130.5px;width:138.4px;height:157px"></div><div class="t" style="left:726.40px;top:133.64px;font-size:9.4px;font-weight:700;color:#1a1a1a;transform:scaleX(0.89);transform-origin:0 50%;">Events</div><div class="card" style="left:864.0px;top:130.5px;width:138.4px;height:157px"></div><div class="t" style="left:869.40px;top:133.62px;font-size:9.9px;font-weight:700;color:#1a1a1a;transform:scaleX(0.85);transform-origin:0 50%;">Distracted Driver</div><svg class="a" style="left:0;top:0" width="1200" height="340" viewBox="0 0 1200 340"><path d="M203.6,212.5L203.6,160.2A52.3,52.3 0 0 1 231.2,168.1Z" fill="#4a9ede" stroke="#fff" stroke-width="0.6" stroke-linejoin="round"/><path d="M203.6,212.5L231.2,168.1A52.3,52.3 0 0 1 241.8,176.8Z" fill="#ed1c24" stroke="#fff" stroke-width="0.6" stroke-linejoin="round"/><path d="M203.6,212.5L241.8,176.8A52.3,52.3 0 0 1 246.4,182.5Z" fill="#5b2a86" stroke="#fff" stroke-width="0.6" stroke-linejoin="round"/><path d="M203.6,212.5L246.4,182.5A52.3,52.3 0 0 1 246.8,183.0Z" fill="#b39ddb" stroke="#fff" stroke-width="0.6" stroke-linejoin="round"/><path d="M203.6,212.5L246.8,183.0A52.3,52.3 0 1 1 203.6,160.2Z" fill="#0c2463" stroke="#fff" stroke-width="0.6" stroke-linejoin="round"/><path d="M354.9,212.4L354.9,160.1A52.3,52.3 0 0 1 382.5,168.0Z" fill="#4a9ede" stroke="#fff" stroke-width="0.6" stroke-linejoin="round"/><path d="M354.9,212.4L382.5,168.0A52.3,52.3 0 0 1 392.5,176.1Z" fill="#ed1c24" stroke="#fff" stroke-width="0.6" stroke-linejoin="round"/><path d="M354.9,212.4L392.5,176.1A52.3,52.3 0 0 1 396.7,180.9Z" fill="#5b2a86" stroke="#fff" stroke-width="0.6" stroke-linejoin="round"/><path d="M354.9,212.4L396.7,180.9A52.3,52.3 0 0 1 398.0,182.7Z" fill="#b39ddb" stroke="#fff" stroke-width="0.6" stroke-linejoin="round"/><path d="M354.9,212.4L398.0,182.7A52.3,52.3 0 1 1 354.9,160.1Z" fill="#0c2463" stroke="#fff" stroke-width="0.6" stroke-linejoin="round"/><path d="M499.3,212.5L499.3,160.2A52.3,52.3 0 0 1 530.0,170.2Z" fill="#4a9ede" stroke="#fff" stroke-width="0.6" stroke-linejoin="round"/><path d="M499.3,212.5L530.0,170.2A52.3,52.3 0 0 1 547.1,191.2Z" fill="#ed1c24" stroke="#fff" stroke-width="0.6" stroke-linejoin="round"/><path d="M499.3,212.5L547.1,191.2A52.3,52.3 0 0 1 550.8,203.4Z" fill="#5b2a86" stroke="#fff" stroke-width="0.6" stroke-linejoin="round"/><path d="M499.3,212.5L550.8,203.4A52.3,52.3 0 0 1 551.5,215.8Z" fill="#b39ddb" stroke="#fff" stroke-width="0.6" stroke-linejoin="round"/><path d="M499.3,212.5L551.5,215.8A52.3,52.3 0 0 1 551.3,218.4Z" fill="#f2e01a" stroke="#fff" stroke-width="0.6" stroke-linejoin="round"/><path d="M499.3,212.5L551.3,218.4A52.3,52.3 0 1 1 499.3,160.2Z" fill="#0c2463" stroke="#fff" stroke-width="0.6" stroke-linejoin="round"/><path d="M642.9,212.4L642.9,159.8A52.6,52.6 0 0 1 691.2,191.6Z" fill="#4a9ede" stroke="#fff" stroke-width="0.6" stroke-linejoin="round"/><path d="M642.9,212.4L691.2,191.6A52.6,52.6 0 0 1 692.9,228.7Z" fill="#ed1c24" stroke="#fff" stroke-width="0.6" stroke-linejoin="round"/><path d="M642.9,212.4L692.9,228.7A52.6,52.6 0 0 1 667.1,259.1Z" fill="#5b2a86" stroke="#fff" stroke-width="0.6" stroke-linejoin="round"/><path d="M642.9,212.4L667.1,259.1A52.6,52.6 0 0 1 635.6,264.5Z" fill="#b39ddb" stroke="#fff" stroke-width="0.6" stroke-linejoin="round"/><path d="M642.9,212.4L635.6,264.5A52.6,52.6 0 0 1 612.0,255.0Z" fill="#f2e01a" stroke="#fff" stroke-width="0.6" stroke-linejoin="round"/><path d="M642.9,212.4L612.0,255.0A52.6,52.6 0 0 1 597.0,238.1Z" fill="#f7891f" stroke="#fff" stroke-width="0.6" stroke-linejoin="round"/><path d="M642.9,212.4L597.0,238.1A52.6,52.6 0 0 1 590.8,219.7Z" fill="#3dba5e" stroke="#fff" stroke-width="0.6" stroke-linejoin="round"/><path d="M642.9,212.4L590.8,219.7A52.6,52.6 0 0 1 590.5,207.8Z" fill="#10979e" stroke="#fff" stroke-width="0.6" stroke-linejoin="round"/><path d="M642.9,212.4L590.5,207.8A52.6,52.6 0 0 1 591.7,200.2Z" fill="#59606a" stroke="#fff" stroke-width="0.6" stroke-linejoin="round"/><path d="M642.9,212.4L591.7,200.2A52.6,52.6 0 0 1 593.5,194.4Z" fill="#dce8f4" stroke="#fff" stroke-width="0.6" stroke-linejoin="round"/><path d="M642.9,212.4L593.5,194.4A52.6,52.6 0 0 1 642.9,159.8Z" fill="#0c2463" stroke="#fff" stroke-width="0.6" stroke-linejoin="round"/><path d="M788.8,212.4L788.8,160.1A52.3,52.3 0 0 1 825.0,174.7Z" fill="#4a9ede" stroke="#fff" stroke-width="0.6" stroke-linejoin="round"/><path d="M788.8,212.4L825.0,174.7A52.3,52.3 0 0 1 836.4,190.8Z" fill="#ed1c24" stroke="#fff" stroke-width="0.6" stroke-linejoin="round"/><path d="M788.8,212.4L836.4,190.8A52.3,52.3 0 0 1 839.0,197.9Z" fill="#5b2a86" stroke="#fff" stroke-width="0.6" stroke-linejoin="round"/><path d="M788.8,212.4L839.0,197.9A52.3,52.3 0 0 1 840.4,203.6Z" fill="#b39ddb" stroke="#fff" stroke-width="0.6" stroke-linejoin="round"/><path d="M788.8,212.4L840.4,203.6A52.3,52.3 0 0 1 841.0,209.4Z" fill="#f2e01a" stroke="#fff" stroke-width="0.6" stroke-linejoin="round"/><path d="M788.8,212.4L841.0,209.4A52.3,52.3 0 0 1 841.1,214.4Z" fill="#f7891f" stroke="#fff" stroke-width="0.6" stroke-linejoin="round"/><path d="M788.8,212.4L841.1,214.4A52.3,52.3 0 0 1 840.5,220.1Z" fill="#3dba5e" stroke="#fff" stroke-width="0.6" stroke-linejoin="round"/><path d="M788.8,212.4L840.5,220.1A52.3,52.3 0 0 1 839.5,225.1Z" fill="#10979e" stroke="#fff" stroke-width="0.6" stroke-linejoin="round"/><path d="M788.8,212.4L839.5,225.1A52.3,52.3 0 0 1 839.1,226.8Z" fill="#59606a" stroke="#fff" stroke-width="0.6" stroke-linejoin="round"/><path d="M788.8,212.4L839.1,226.8A52.3,52.3 0 1 1 788.8,160.1Z" fill="#0c2463" stroke="#fff" stroke-width="0.6" stroke-linejoin="round"/><rect x="877" y="159" width="106" height="96" fill="none" stroke="#e3e6ea" stroke-width="0.6"/><path d="M947.5,240.9L947.5,199.3A41.6,41.6 0 1 1 907.7,253.1Z" fill="#0c2463" stroke="#fff" stroke-width="0.5" stroke-linejoin="round"/><path d="M947.5,240.9L907.7,253.1A41.6,41.6 0 0 1 908.2,227.4Z" fill="#2c6ea6" stroke="#fff" stroke-width="0.5" stroke-linejoin="round"/><path d="M947.5,240.9L908.2,227.4A41.6,41.6 0 0 1 935.1,201.2Z" fill="#12a3a8" stroke="#fff" stroke-width="0.5" stroke-linejoin="round"/><path d="M947.5,240.9L935.1,201.2A41.6,41.6 0 0 1 940.3,199.9Z" fill="#5b2a86" stroke="#fff" stroke-width="0.5" stroke-linejoin="round"/><path d="M947.5,240.9L940.3,199.9A41.6,41.6 0 0 1 942.9,199.6Z" fill="#a8d0f0" stroke="#fff" stroke-width="0.5" stroke-linejoin="round"/><path d="M947.5,240.9L942.9,199.6A41.6,41.6 0 0 1 945.3,199.4Z" fill="#f7891f" stroke="#fff" stroke-width="0.5" stroke-linejoin="round"/><path d="M947.5,240.9L945.3,199.4A41.6,41.6 0 0 1 947.5,199.3Z" fill="#f6c21c" stroke="#fff" stroke-width="0.5" stroke-linejoin="round"/><path d="M936.5,200 V187.5 H926" fill="none" stroke="#5b2a86" stroke-width="0.4"/><path d="M940,199 V168 H950" fill="none" stroke="#a8d0f0" stroke-width="0.4"/><path d="M944,199 V183 H950" fill="none" stroke="#f7891f" stroke-width="0.4"/><path d="M946,199 V193 H965" fill="none" stroke="#f6c21c" stroke-width="0.4"/></svg><div class="t" style="left:206.50px;top:166.92px;font-size:6px;font-weight:400;color:#eef1f8;transform:scaleX(1.0);transform-origin:0 50%;">Wet</div><div class="t" style="left:206.50px;top:172.42px;font-size:6px;font-weight:400;color:#eef1f8;transform:scaleX(1.0);transform-origin:0 50%;">8.85%</div><div class="t" style="left:175.30px;top:220.47px;font-size:8.9px;font-weight:400;color:#eef1f8;transform:scaleX(1.0);transform-origin:0 50%;">Dry</div><div class="t" style="left:175.30px;top:230.77px;font-size:8.9px;font-weight:400;color:#eef1f8;transform:scaleX(1.0);transform-origin:0 50%;">84.72%</div><div class="t" style="left:320.90px;top:217.97px;font-size:8.9px;font-weight:400;color:#eef1f8;transform:scaleX(1.0);transform-origin:0 50%;">No apparent</div><div class="t" style="left:320.90px;top:229.77px;font-size:8.9px;font-weight:400;color:#eef1f8;transform:scaleX(1.0);transform-origin:0 50%;">injury 85.55%</div><div class="t" style="left:469.80px;top:219.67px;font-size:8.9px;font-weight:400;color:#eef1f8;transform:scaleX(1.0);transform-origin:0 50%;">Daylight</div><div class="t" style="left:469.80px;top:230.47px;font-size:8.9px;font-weight:400;color:#eef1f8;transform:scaleX(1.0);transform-origin:0 50%;">72.84%</div><div class="t" style="left:631.80px;width:60px;top:170.71px;text-align:center;font-size:6.6px;font-weight:400;color:#eef1f8;"><span style="display:inline-block;transform:scaleX(1);transform-origin:50% 50%">Failing to</span></div><div class="t" style="left:631.80px;width:60px;top:177.01px;text-align:center;font-size:6.6px;font-weight:400;color:#eef1f8;"><span style="display:inline-block;transform:scaleX(1);transform-origin:50% 50%">yield</span></div><div class="t" style="left:631.80px;width:60px;top:183.31px;text-align:center;font-size:6.6px;font-weight:400;color:#eef1f8;"><span style="display:inline-block;transform:scaleX(1);transform-origin:50% 50%">right-of-way</span></div><div class="t" style="left:631.80px;width:60px;top:189.61px;text-align:center;font-size:6.6px;font-weight:400;color:#eef1f8;"><span style="display:inline-block;transform:scaleX(1);transform-origin:50% 50%">18.52%</span></div><div class="t" style="left:595.30px;width:60px;top:170.31px;text-align:center;font-size:6.6px;font-weight:400;color:#eef1f8;"><span style="display:inline-block;transform:scaleX(1);transform-origin:50% 50%">Failing to</span></div><div class="t" style="left:595.30px;width:60px;top:176.61px;text-align:center;font-size:6.6px;font-weight:400;color:#eef1f8;"><span style="display:inline-block;transform:scaleX(1);transform-origin:50% 50%">reduce</span></div><div class="t" style="left:595.30px;width:60px;top:182.91px;text-align:center;font-size:6.6px;font-weight:400;color:#eef1f8;"><span style="display:inline-block;transform:scaleX(1);transform-origin:50% 50%">speed to</span></div><div class="t" style="left:595.30px;width:60px;top:189.21px;text-align:center;font-size:6.6px;font-weight:400;color:#eef1f8;"><span style="display:inline-block;transform:scaleX(1);transform-origin:50% 50%">avoid crash</span></div><div class="t" style="left:595.30px;width:60px;top:195.51px;text-align:center;font-size:6.6px;font-weight:400;color:#eef1f8;"><span style="display:inline-block;transform:scaleX(1);transform-origin:50% 50%">19.29%</span></div><div class="t" style="left:621.70px;width:60px;top:246.81px;text-align:center;font-size:6.6px;font-weight:400;color:#eef1f8;"><span style="display:inline-block;transform:scaleX(1);transform-origin:50% 50%">Other</span></div><div class="t" style="left:621.70px;width:60px;top:253.11px;text-align:center;font-size:6.6px;font-weight:400;color:#eef1f8;"><span style="display:inline-block;transform:scaleX(1);transform-origin:50% 50%">10.49%</span></div><div class="t" style="left:752.70px;top:208.55px;font-size:8.8px;font-weight:400;color:#eef1f8;transform:scaleX(1.0);transform-origin:0 50%;">Motor</div><div class="t" style="left:752.70px;top:218.95px;font-size:8.8px;font-weight:400;color:#eef1f8;transform:scaleX(1.0);transform-origin:0 50%;">vehicle in</div><div class="t" style="left:752.70px;top:229.25px;font-size:8.8px;font-weight:400;color:#eef1f8;transform:scaleX(1.0);transform-origin:0 50%;">traffic 70.18%</div><div class="t" style="left:870.70px;top:145.25px;font-size:3.6px;font-weight:400;color:#333;transform:scaleX(1);transform-origin:0 50%;"><b>30%</b> distracted by electronic communication devices (cell phones, etc.),</div><div class="t" style="left:870.70px;top:149.55px;font-size:3.6px;font-weight:400;color:#333;transform:scaleX(1);transform-origin:0 50%;">texting, inside and outside the vehicle, inattentive and unknown</div><div class="t" style="left:917.00px;width:40px;top:164.63px;text-align:center;font-size:2.8px;font-weight:400;color:#333;"><span style="display:inline-block;transform:scaleX(1);transform-origin:50% 50%">Outside the vehicle</span></div><div class="t" style="left:917.00px;width:40px;top:167.63px;text-align:center;font-size:2.8px;font-weight:400;color:#333;"><span style="display:inline-block;transform:scaleX(1);transform-origin:50% 50%">(objects or scenarios)</span></div><div class="t" style="left:917.00px;width:40px;top:170.42px;text-align:center;font-size:6px;font-weight:400;color:#7fb8e6;"><span style="display:inline-block;transform:scaleX(1);transform-origin:50% 50%">1%</span></div><div class="t" style="left:898.00px;width:40px;top:177.63px;text-align:center;font-size:2.8px;font-weight:400;color:#333;"><span style="display:inline-block;transform:scaleX(1);transform-origin:50% 50%">Inside the vehicle</span></div><div class="t" style="left:898.00px;width:40px;top:180.63px;text-align:center;font-size:2.8px;font-weight:400;color:#333;"><span style="display:inline-block;transform:scaleX(1);transform-origin:50% 50%">(objects or scenarios)</span></div><div class="t" style="left:901.00px;width:40px;top:184.42px;text-align:center;font-size:6px;font-weight:700;color:#5b2a86;"><span style="display:inline-block;transform:scaleX(1);transform-origin:50% 50%">2%</span></div><div class="t" style="left:935.00px;width:40px;top:178.13px;text-align:center;font-size:2.8px;font-weight:400;color:#333;"><span style="display:inline-block;transform:scaleX(1);transform-origin:50% 50%">Inattentive</span></div><div class="t" style="left:935.00px;width:40px;top:181.42px;text-align:center;font-size:6px;font-weight:400;color:#f7891f;"><span style="display:inline-block;transform:scaleX(1);transform-origin:50% 50%">1%</span></div><div class="t" style="left:949.00px;width:40px;top:188.63px;text-align:center;font-size:2.8px;font-weight:400;color:#333;"><span style="display:inline-block;transform:scaleX(1);transform-origin:50% 50%">Unknown</span></div><div class="t" style="left:950.00px;width:40px;top:191.92px;text-align:center;font-size:6px;font-weight:400;color:#e8b90c;"><span style="display:inline-block;transform:scaleX(1);transform-origin:50% 50%">1%</span></div><div class="t" style="left:874.00px;width:40px;top:234.13px;text-align:center;font-size:2.8px;font-weight:400;color:#333;"><span style="display:inline-block;transform:scaleX(1);transform-origin:50% 50%">Electronic</span></div><div class="t" style="left:874.00px;width:40px;top:237.13px;text-align:center;font-size:2.8px;font-weight:400;color:#333;"><span style="display:inline-block;transform:scaleX(1);transform-origin:50% 50%">communication</span></div><div class="t" style="left:874.00px;width:40px;top:240.13px;text-align:center;font-size:2.8px;font-weight:400;color:#333;"><span style="display:inline-block;transform:scaleX(1);transform-origin:50% 50%">devices (cell</span></div><div class="t" style="left:874.00px;width:40px;top:243.13px;text-align:center;font-size:2.8px;font-weight:400;color:#333;"><span style="display:inline-block;transform:scaleX(1);transform-origin:50% 50%">phones, etc.)</span></div><div class="t" style="left:904.30px;width:30px;top:239.24px;text-align:center;font-size:4.8px;font-weight:700;color:#fff;"><span style="display:inline-block;transform:scaleX(1);transform-origin:50% 50%">10%</span></div><div class="t" style="left:913.00px;width:30px;top:216.10px;text-align:center;font-size:5.2px;font-weight:400;color:#fff;"><span style="display:inline-block;transform:scaleX(1);transform-origin:50% 50%">Texting</span></div><div class="t" style="left:913.50px;width:30px;top:221.74px;text-align:center;font-size:4.8px;font-weight:700;color:#fff;"><span style="display:inline-block;transform:scaleX(1);transform-origin:50% 50%">19%</span></div><div class="t" style="left:943.00px;width:40px;top:245.07px;text-align:center;font-size:5px;font-weight:400;color:#fff;"><span style="display:inline-block;transform:scaleX(1);transform-origin:50% 50%">Not distracted</span></div><div class="t" style="left:943.00px;width:40px;top:250.49px;text-align:center;font-size:4.5px;font-weight:700;color:#fff;"><span style="display:inline-block;transform:scaleX(1);transform-origin:50% 50%">70%</span></div><div class="a" style="left:123.5px;top:323.8px;width:898.5px;height:269.8px;background:#fff"></div><div class="a" style="left:139px;top:338.2px;width:867.5px;height:239.5px;background:#e6e7ea;border:1px solid #8f9196;border-radius:6px"></div><div class="card" style="left:148px;top:347.4px;width:92px;height:67.5px"></div><div class="t" style="left:153.60px;top:351.81px;font-size:6.6px;font-weight:700;color:#1a1a1a;transform:scaleX(0.92);transform-origin:0 50%;">Total</div><div class="t" style="left:134.00px;width:120px;top:368.66px;text-align:center;font-size:23.2px;font-weight:700;color:#000;"><span style="display:inline-block;transform:scaleX(0.975);transform-origin:50% 50%">6,050</span></div><div class="t" style="left:134.00px;width:120px;top:400.80px;text-align:center;font-size:7.8px;font-weight:700;color:#1a1a1a;"><span style="display:inline-block;transform:scaleX(0.96);transform-origin:50% 50%">Total Citations</span></div><div class="card" style="left:256px;top:347.4px;width:92px;height:67.5px"></div><div class="t" style="left:261.60px;top:351.81px;font-size:6.6px;font-weight:700;color:#1a1a1a;transform:scaleX(0.92);transform-origin:0 50%;">Issued Citations</div><div class="t" style="left:242.00px;width:120px;top:368.66px;text-align:center;font-size:23.2px;font-weight:700;color:#000;"><span style="display:inline-block;transform:scaleX(0.975);transform-origin:50% 50%">4,849</span></div><div class="t" style="left:242.00px;width:120px;top:400.80px;text-align:center;font-size:7.8px;font-weight:700;color:#1a1a1a;"><span style="display:inline-block;transform:scaleX(0.96);transform-origin:50% 50%">Issued Citations</span></div><div class="card" style="left:148px;top:424.5px;width:92px;height:67.5px"></div><div class="t" style="left:153.60px;top:428.91px;font-size:6.6px;font-weight:700;color:#1a1a1a;transform:scaleX(0.92);transform-origin:0 50%;">Voided Tickets</div><div class="t" style="left:134.00px;width:120px;top:445.76px;text-align:center;font-size:23.2px;font-weight:700;color:#000;"><span style="display:inline-block;transform:scaleX(0.975);transform-origin:50% 50%">807</span></div><div class="t" style="left:134.00px;width:120px;top:477.90px;text-align:center;font-size:7.8px;font-weight:700;color:#1a1a1a;"><span style="display:inline-block;transform:scaleX(0.96);transform-origin:50% 50%">Voided Citations</span></div><div class="card" style="left:256px;top:424.5px;width:92px;height:67.5px"></div><div class="t" style="left:261.60px;top:428.91px;font-size:6.6px;font-weight:700;color:#1a1a1a;transform:scaleX(0.92);transform-origin:0 50%;">Deleted Citations Metric</div><div class="t" style="left:242.00px;width:120px;top:445.76px;text-align:center;font-size:23.2px;font-weight:700;color:#000;"><span style="display:inline-block;transform:scaleX(0.975);transform-origin:50% 50%">232</span></div><div class="t" style="left:242.00px;width:120px;top:477.90px;text-align:center;font-size:7.8px;font-weight:700;color:#1a1a1a;"><span style="display:inline-block;transform:scaleX(0.96);transform-origin:50% 50%">Deleted Citations</span></div><div class="card" style="left:148px;top:501.6px;width:92px;height:67.5px"></div><div class="t" style="left:153.60px;top:506.01px;font-size:6.6px;font-weight:700;color:#1a1a1a;transform:scaleX(0.92);transform-origin:0 50%;">Draft Citations</div><div class="t" style="left:134.00px;width:120px;top:522.86px;text-align:center;font-size:23.2px;font-weight:700;color:#000;"><span style="display:inline-block;transform:scaleX(0.975);transform-origin:50% 50%">152</span></div><div class="t" style="left:134.00px;width:120px;top:555.00px;text-align:center;font-size:7.8px;font-weight:700;color:#1a1a1a;"><span style="display:inline-block;transform:scaleX(0.96);transform-origin:50% 50%">Draft Citations</span></div><div class="card" style="left:256px;top:501.6px;width:92px;height:67.5px"></div><div class="t" style="left:261.60px;top:506.01px;font-size:6.6px;font-weight:700;color:#1a1a1a;transform:scaleX(0.92);transform-origin:0 50%;">Warnings</div><div class="t" style="left:244.50px;width:120px;top:522.86px;text-align:center;font-size:23.2px;font-weight:700;color:#000;"><span style="display:inline-block;transform:scaleX(0.975);transform-origin:50% 50%">2,495</span></div><div class="t" style="left:244.50px;width:120px;top:555.00px;text-align:center;font-size:7.8px;font-weight:700;color:#1a1a1a;"><span style="display:inline-block;transform:scaleX(0.96);transform-origin:50% 50%">Warnings</span></div><div class="card" style="left:374.2px;top:346.8px;width:182.4px;height:102px;border-radius:6px"></div><div class="t" style="left:381.90px;top:351.07px;font-size:8.3px;font-weight:700;color:#111;transform:scaleX(1.0);transform-origin:0 50%;">Sex</div><div class="card" style="left:374.3px;top:467.6px;width:181.7px;height:100.7px;border-radius:6px"></div><div class="t" style="left:382.00px;top:471.07px;font-size:8.3px;font-weight:700;color:#111;transform:scaleX(1.0);transform-origin:0 50%;">Age</div><svg class="a" style="left:0;top:0" width="1200" height="675" viewBox="0 0 1200 675"><path d="M453,394.2L453.0,353.9A40.3,40.3 0 0 1 483.4,420.7Z" fill="#f68b1f" stroke="#fff" stroke-width="0.5" stroke-linejoin="round"/><path d="M453,394.2L483.4,420.7A40.3,40.3 0 0 1 480.2,423.9Z" fill="#f9c38a" stroke="#fff" stroke-width="0.5" stroke-linejoin="round"/><path d="M453,394.2L480.2,423.9A40.3,40.3 0 0 1 479.5,424.6Z" fill="#fbe0bd" stroke="#fff" stroke-width="0.5" stroke-linejoin="round"/><path d="M453,394.2L479.5,424.6A40.3,40.3 0 0 1 479.2,424.8Z" fill="#f5d7b5" stroke="#fff" stroke-width="0.5" stroke-linejoin="round"/><path d="M453,394.2L479.2,424.8A40.3,40.3 0 1 1 453.0,353.9Z" fill="#ee2a2e" stroke="#fff" stroke-width="0.5" stroke-linejoin="round"/><path d="M479,423.5 H494" stroke="#8aa0b8" stroke-width="0.4" fill="none"/><path d="M478,425 L486,429 H492" stroke="#8aa0b8" stroke-width="0.4" fill="none"/><path d="M477,426 L483,436.5 H490" stroke="#8aa0b8" stroke-width="0.4" fill="none"/><path d="M453.3,515.2L453.3,474.7A40.5,40.5 0 0 1 477.1,548.0Z" fill="#0c2463" stroke="#fff" stroke-width="0.5" stroke-linejoin="round"/><path d="M453.3,515.2L477.1,548.0A40.5,40.5 0 0 1 444.9,554.8Z" fill="#2a6aa8" stroke="#fff" stroke-width="0.5" stroke-linejoin="round"/><path d="M453.3,515.2L444.9,554.8A40.5,40.5 0 0 1 429.5,548.0Z" fill="#8ecbf0" stroke="#fff" stroke-width="0.5" stroke-linejoin="round"/><path d="M453.3,515.2L429.5,548.0A40.5,40.5 0 0 1 453.3,474.7Z" fill="#4b9fdf" stroke="#fff" stroke-width="0.5" stroke-linejoin="round"/></svg><div class="t" style="left:423.80px;top:386.47px;font-size:7px;font-weight:400;color:#fde8e8;transform:scaleX(1.0);transform-origin:0 50%;">Male</div><div class="t" style="left:423.60px;top:393.62px;font-size:7.3px;font-weight:700;color:#fff;transform:scaleX(1.0);transform-origin:0 50%;">61.28%</div><div class="t" style="left:458.70px;top:373.41px;font-size:7.2px;font-weight:400;color:#fff0dc;transform:scaleX(1.0);transform-origin:0 50%;">Female</div><div class="t" style="left:458.70px;top:380.62px;font-size:7.3px;font-weight:700;color:#fff;transform:scaleX(1.0);transform-origin:0 50%;">36.42%</div><div class="t" style="left:495.30px;top:418.55px;font-size:6.2px;font-weight:400;color:#555;transform:scaleX(1.0);transform-origin:0 50%;">Unknown <b>1.77%</b></div><div class="t" style="left:493.90px;top:424.35px;font-size:6.2px;font-weight:400;color:#555;transform:scaleX(1.0);transform-origin:0 50%;">X <b>0.38%</b></div><div class="t" style="left:492.60px;top:432.35px;font-size:6.2px;font-weight:400;color:#555;transform:scaleX(1.0);transform-origin:0 50%;">Other <b>0.15%</b></div><div class="t" style="left:460.90px;top:500.27px;font-size:7px;font-weight:400;color:#e6ecf8;transform:scaleX(1.0);transform-origin:0 50%;">35-55</div><div class="t" style="left:460.90px;top:506.67px;font-size:7px;font-weight:700;color:#fff;transform:scaleX(1.0);transform-origin:0 50%;">40%</div><div class="t" style="left:420.90px;top:500.27px;font-size:7px;font-weight:400;color:#eef5fc;transform:scaleX(1.0);transform-origin:0 50%;">19-35</div><div class="t" style="left:420.90px;top:506.67px;font-size:7px;font-weight:700;color:#fff;transform:scaleX(1.0);transform-origin:0 50%;">19%</div><div class="t" style="left:450.60px;top:535.37px;font-size:7px;font-weight:400;color:#e6ecf8;transform:scaleX(1.0);transform-origin:0 50%;">56-75</div><div class="t" style="left:450.60px;top:541.96px;font-size:6.9px;font-weight:700;color:#fff;transform:scaleX(1.0);transform-origin:0 50%;">13.33%</div><div class="t" style="left:406.10px;top:553.25px;font-size:6.2px;font-weight:400;color:#555;transform:scaleX(1.0);transform-origin:0 50%;">0-18 <b>6.67%</b></div><div class="a" style="left:584.3px;top:347.1px;width:412.5px;height:222.3px;background:#0b2668;border-radius:12px;overflow:hidden"></div><svg class="a" style="left:0;top:0;overflow:hidden" width="1200" height="675" viewBox="0 0 1200 675"><defs><clipPath id="sc"><rect x="584.3" y="347.1" width="412.5" height="222.3" rx="12"/></clipPath></defs><g clip-path="url(#sc)" font-family="Liberation Mono" font-size="5.4" fill="#4a68a8" fill-opacity="0.5" letter-spacing="1.76"><text x="586.3" y="352.6">101000100001100010000100001100100010000111111100001111100101011001111100110011111011</text><text x="586.3" y="359.1">001001001110011101111100000000101100111001111101100001001000001000101111001111100011</text><text x="586.3" y="365.6">100010010110101000100110011101111000010101011001010110111000000101100000010001010111</text><text x="586.3" y="372.1">001110001000001001100001001001101110101010111001001001010100110001111011010111011100</text><text x="586.3" y="378.6">000110010111011010010100100010101110000010001101101101000010101111001001100001100011</text><text x="586.3" y="385.1">010100110111100101001101100001001010110001110100100000001011000110100011010001110110</text><text x="586.3" y="391.6">000111001011001111110010101101110000011010101110001111011110101110001110110111010010</text><text x="586.3" y="398.1">011101101000110110001111111101110000010111100000101011001110111011100010111110001110</text><text x="586.3" y="404.6">011100000010000001011000101100011110100011000110101101011110010010100101101001100100</text><text x="586.3" y="411.1">001000111000100101111100001011001111001011011101010101001001111011110000011111101001</text><text x="586.3" y="417.6">001111001001001101001000111000110011111110100000101011000100010110100000010110010011</text><text x="586.3" y="424.1">000100011101000110101000111111011110101100101001110000010100110000110100110100010100</text><text x="586.3" y="430.6">010110000001011111011111000110110110001110100001001000000110001101110110101100010111</text><text x="586.3" y="437.1">010011011111101101000111100001111001000001101011001100000100011100111000000100000000</text><text x="586.3" y="443.6">101010101011101000100011011110000100010110111001010100000000100000000010010000000011</text><text x="586.3" y="450.1">000011111011101111010101100010100100110101110100100010110110101011101010011011011100</text><text x="586.3" y="456.6">110011000110010100001001111000101100110110011001100001111010101111010101100100010101</text><text x="586.3" y="463.1">011110010101111000111100110110000010011110110111101011011111010110010100001100001100</text><text x="586.3" y="469.6">100101001001100110110101000111111110010001011000101011101111101111111101010110001101</text><text x="586.3" y="476.1">100001010000100001001011101010101001110010110010001000000010101001001111000000111010</text><text x="586.3" y="482.6">111100010111111110100110111011011110010011101100101101011010011110000001111000110110</text><text x="586.3" y="489.1">010110000101110101010010000111010011001010100001100011000100110111110111010001000001</text><text x="586.3" y="495.6">010100111010101000101011100011101101110000110101110001110010011010101101010000000011</text><text x="586.3" y="502.1">000010001011110011010010010110010110101100000000011000010101010001011100010000110011</text><text x="586.3" y="508.6">010111011110101010100011000011100011001001001011000101010011110011010111111001001101</text><text x="586.3" y="515.1">001111101000011011100011100101101001011011011111111110111101011001101010001111111110</text><text x="586.3" y="521.6">110000111001111100111010011101001000101001011000001100100000000111001001100100101100</text><text x="586.3" y="528.1">010100000001011111001011110000011001110111100110101110101010000010110011011011001011</text><text x="586.3" y="534.6">101000011001010001000110010010111110100111010110010100100101010100111100100000101011</text><text x="586.3" y="541.1">010111110010100100010001110010011000101100010100110010110001100110011111000011011011</text><text x="586.3" y="547.6">101010110000010110001110110101100001001110100000110011001001010011010001101101011101</text><text x="586.3" y="554.1">001111101100010011101110000001001101000101000110010010100100011001000101101001110101</text><text x="586.3" y="560.6">100011010100100100110111001011000011011001101000011111110111000100011101100001011000</text><text x="586.3" y="567.1">111011101111001000011111000111100001111101101100100001101000000001000101001101110010</text></g><line x1="599.6" x2="975.6" y1="382.6" y2="382.6" stroke="#a9bbdc" stroke-opacity="0.7" stroke-width="0.9"/><line x1="599.6" x2="975.6" y1="398.0" y2="398.0" stroke="#a9bbdc" stroke-opacity="0.12" stroke-width="0.9"/><line x1="599.6" x2="975.6" y1="413.1" y2="413.1" stroke="#a9bbdc" stroke-opacity="0.12" stroke-width="0.9"/><line x1="599.6" x2="975.6" y1="428.2" y2="428.2" stroke="#a9bbdc" stroke-opacity="0.15" stroke-width="0.9"/><line x1="599.6" x2="975.6" y1="443.3" y2="443.3" stroke="#a9bbdc" stroke-opacity="0.6" stroke-width="0.9"/><line x1="599.6" x2="975.6" y1="458.2" y2="458.2" stroke="#a9bbdc" stroke-opacity="0.6" stroke-width="0.9"/><line x1="599.6" x2="975.6" y1="473.3" y2="473.3" stroke="#a9bbdc" stroke-opacity="0.2" stroke-width="0.9"/><line x1="599.6" x2="975.6" y1="488.8" y2="488.8" stroke="#a9bbdc" stroke-opacity="0.3" stroke-width="0.9"/><line x1="599.6" x2="975.6" y1="503.4" y2="503.4" stroke="#a9bbdc" stroke-opacity="0.2" stroke-width="0.9"/><line x1="599.6" x2="975.6" y1="518.1" y2="518.1" stroke="#a9bbdc" stroke-opacity="0.45" stroke-width="0.9"/><line x1="599.6" x2="975.6" y1="533.5" y2="533.5" stroke="#a9bbdc" stroke-opacity="0.45" stroke-width="0.9"/><line x1="599.6" x2="975.6" y1="549.2" y2="549.2" stroke="#a9bbdc" stroke-opacity="0.45" stroke-width="0.9"/><g fill="none" stroke="#dfe7f6" stroke-width="1.1" stroke-linecap="round"><path d="M962.2,364.3 A13.2,13.2 0 1 1 975.4,377.5 H961.2"/><circle cx="975.4" cy="364.3" r="10.3"/><path d="M955.9,370.4 H964.2 M958.5,373.9 H966.5"/><circle cx="975.4" cy="363.3" r="1.6"/><path d="M976.8,364 L981.5,366.2"/></g><path d="M969.5,370.2L968.6,371.1M967.5,366.9L966.3,367.3M967.2,363.0L965.9,362.8M968.7,359.4L967.6,358.7M971.6,356.9L971.0,355.7M975.4,356.0L975.4,354.7M979.2,356.9L979.8,355.7M982.1,359.4L983.2,358.7M983.6,363.0L984.9,362.8M983.3,366.9L984.5,367.3M981.3,370.2L982.2,371.1" stroke="#dfe7f6" stroke-width="0.6"/><path d="M973.2,368.8 H977.6" stroke="#dfe7f6" stroke-width="0.9"/></svg><div class="t" style="left:600.70px;top:355.55px;font-size:8.8px;font-weight:700;color:#fff;transform:scaleX(0.93);transform-origin:0 50%;">Count by Statute</div><div class="t" style="left:600.70px;top:371.83px;font-size:8.0px;font-weight:700;color:#fff;transform:scaleX(0.9);transform-origin:0 50%;">Statute</div><div class="t" style="left:695.20px;top:371.83px;font-size:8.0px;font-weight:700;color:#fff;transform:scaleX(0.91);transform-origin:0 50%;">Statute Description</div><div class="t" style="left:600.70px;top:386.60px;font-size:7.8px;font-weight:400;color:#eef2fa;transform:scaleX(0.92);transform-origin:0 50%;">123.0000</div><div class="t" style="left:695.20px;top:386.60px;font-size:7.8px;font-weight:400;color:#eef2fa;transform:scaleX(0.865);transform-origin:0 50%;">SPEEDING SCHOOL ZONE</div><div class="t" style="left:600.70px;top:401.67px;font-size:7.8px;font-weight:400;color:#eef2fa;transform:scaleX(0.92);transform-origin:0 50%;">123.0000</div><div class="t" style="left:695.20px;top:401.67px;font-size:7.8px;font-weight:400;color:#eef2fa;transform:scaleX(0.865);transform-origin:0 50%;">SPEED SCHOOL ZONE (WITHOUT SPEED)</div><div class="t" style="left:600.70px;top:416.74px;font-size:7.8px;font-weight:400;color:#eef2fa;transform:scaleX(0.92);transform-origin:0 50%;">123.0000</div><div class="t" style="left:695.20px;top:416.74px;font-size:7.8px;font-weight:400;color:#eef2fa;transform:scaleX(0.865);transform-origin:0 50%;">SEAT BELT VIO BY DRIVER</div><div class="t" style="left:600.70px;top:431.81px;font-size:7.8px;font-weight:400;color:#eef2fa;transform:scaleX(0.92);transform-origin:0 50%;">123.0000</div><div class="t" style="left:695.20px;top:431.81px;font-size:7.8px;font-weight:400;color:#eef2fa;transform:scaleX(0.865);transform-origin:0 50%;">FINANCIAL RESPONSIBILITY (NON CMV) NO PROOF OF INSURANCE</div><div class="t" style="left:600.70px;top:446.88px;font-size:7.8px;font-weight:400;color:#eef2fa;transform:scaleX(0.92);transform-origin:0 50%;">123.0000</div><div class="t" style="left:695.20px;top:446.88px;font-size:7.8px;font-weight:400;color:#eef2fa;transform:scaleX(0.865);transform-origin:0 50%;">FAIL TO PROVIDE PROOF OF INSURANCE</div><div class="t" style="left:600.70px;top:461.95px;font-size:7.8px;font-weight:400;color:#eef2fa;transform:scaleX(0.92);transform-origin:0 50%;">123.0000</div><div class="t" style="left:695.20px;top:461.95px;font-size:7.8px;font-weight:400;color:#eef2fa;transform:scaleX(0.865);transform-origin:0 50%;">DWLS UNKNOWINGLY</div><div class="t" style="left:600.70px;top:477.02px;font-size:7.8px;font-weight:400;color:#eef2fa;transform:scaleX(0.92);transform-origin:0 50%;">123.0000</div><div class="t" style="left:695.20px;top:477.02px;font-size:7.8px;font-weight:400;color:#eef2fa;transform:scaleX(0.865);transform-origin:0 50%;">RAN STOP SIGN</div><div class="t" style="left:600.70px;top:492.09px;font-size:7.8px;font-weight:400;color:#eef2fa;transform:scaleX(0.92);transform-origin:0 50%;">123.0000</div><div class="t" style="left:695.20px;top:492.09px;font-size:7.8px;font-weight:400;color:#eef2fa;transform:scaleX(0.865);transform-origin:0 50%;">DRIVING ARND RR BARRIER/DRIVER</div><div class="t" style="left:600.70px;top:507.16px;font-size:7.8px;font-weight:400;color:#eef2fa;transform:scaleX(0.92);transform-origin:0 50%;">123.0000</div><div class="t" style="left:695.20px;top:507.16px;font-size:7.8px;font-weight:400;color:#eef2fa;transform:scaleX(0.865);transform-origin:0 50%;">DRV AROUND RR CROSS GATE/BARR</div><div class="t" style="left:600.70px;top:522.23px;font-size:7.8px;font-weight:400;color:#eef2fa;transform:scaleX(0.92);transform-origin:0 50%;">123.0000</div><div class="t" style="left:695.20px;top:522.23px;font-size:7.8px;font-weight:400;color:#eef2fa;transform:scaleX(0.865);transform-origin:0 50%;">SPEEDING MUNICIPAL ROAD</div><div class="t" style="left:600.70px;top:537.30px;font-size:7.8px;font-weight:400;color:#eef2fa;transform:scaleX(0.92);transform-origin:0 50%;">123.0000</div><div class="t" style="left:695.20px;top:537.30px;font-size:7.8px;font-weight:400;color:#eef2fa;transform:scaleX(0.865);transform-origin:0 50%;">SPEEDING MUNICIPAL ROAD W/O SPEEDS</div><div class="t" style="left:600.70px;top:552.37px;font-size:7.8px;font-weight:400;color:#eef2fa;transform:scaleX(0.92);transform-origin:0 50%;">123.0000</div><div class="t" style="left:695.20px;top:552.37px;font-size:7.8px;font-weight:400;color:#eef2fa;transform:scaleX(0.865);transform-origin:0 50%;">SPEEDING MUNICIPAL ROAD (30MPH OVER LIMIT)</div><div class="a" style="left:779px;top:605.8px;width:244px;height:61.4px;background:#fff"></div><svg class="a" style="left:0;top:0" width="1200" height="675" viewBox="0 0 1200 675"><g fill="#2857a6" fill-rule="evenodd" stroke="#1d3f86" stroke-width="0.35"><path d="M784.5,612.4H818.5Q826,612.4 826,619.9V631.6Q826,639 818.5,639H796.2V648H784.5Z M796.2,622.4H813.3Q815.6,622.4 815.6,624.7V628.3Q815.6,630.6 813.3,630.6H796.2Z"/><path d="M838.5,612.4H865Q874.2,612.4 874.2,621.6V638.8Q874.2,648 865,648H838.5Q829.3,648 829.3,638.8V621.6Q829.3,612.4 838.5,612.4Z M844,622.4H859.5Q863.6,622.4 863.6,626.5V634.5Q863.6,638.6 859.5,638.6H844Q839.9,638.6 839.9,634.5V626.5Q839.9,622.4 844,622.4Z"/><path d="M875.8,612.4H886.8V639H910.6V648H875.8Z"/><path d="M912.5,612.4H923.7V648H912.5Z"/><path d="M935.5,612.4H970.6V623.4H941.8Q937.4,623.4 937.4,627.8V632.6Q937.4,637 941.8,637H970.6V648H935.5Q926.4,648 926.4,638.9V621.5Q926.4,612.4 935.5,612.4Z"/><path d="M973.6,612.4H1012.3V621.2H986.3V627.1H1010.5V634.4H986.3V639.8H1012.3V648H973.6Z"/></g><text x="1014" y="615.5" font-family="Liberation Sans" font-size="4" fill="#888">™</text><path d="M875.6,652H962.4L959.9,660.2H872.4Z" fill="#c5213b"/><path d="M962.4,651.3H1015.7L1012.5,658.9H959.9Z" fill="#2a4c8e"/></svg><div class="t" style="left:877.40px;top:653.76px;font-size:6.9px;font-weight:700;color:#fff;transform:scaleX(1.15);transform-origin:0 50%;-webkit-text-stroke:0.3px #fff">LAW ENFORCEMENT</div><div class="t" style="left:964.80px;top:652.41px;font-size:6.6px;font-weight:700;color:#fff;transform:scaleX(1.17);transform-origin:0 50%;-webkit-text-stroke:0.3px #fff">SOLUTIONS</div></body></html>
